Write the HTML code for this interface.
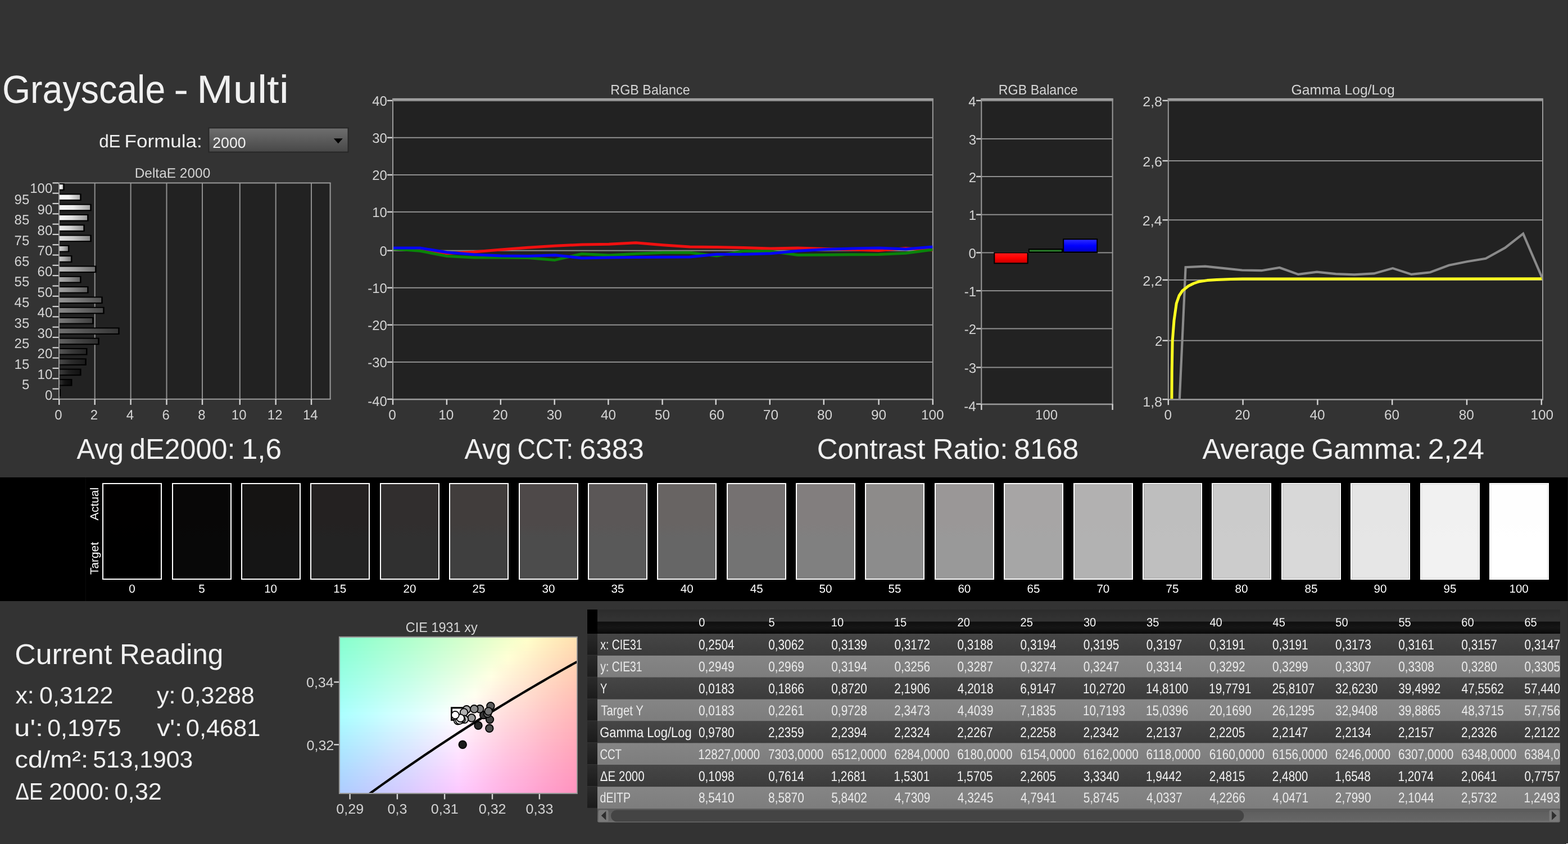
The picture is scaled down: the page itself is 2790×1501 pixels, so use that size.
<!DOCTYPE html>
<html lang="en">
<head>
<meta charset="utf-8">
<title>Grayscale - Multi</title>
<style>
html,body{margin:0;padding:0;background:#333333;}
body{width:2790px;height:1501px;font-family:"Liberation Sans", Arial, sans-serif;line-height:0;}
svg{display:block;}
</style>
</head>
<body>
<svg width="2790" height="1501" viewBox="0 0 2790 1501" font-family='"Liberation Sans", Arial, sans-serif' text-rendering="geometricPrecision">
<defs>
<linearGradient id="dd" x1="0" y1="0" x2="0" y2="1"><stop offset="0" stop-color="#6e6e6e"/><stop offset="1" stop-color="#484848"/></linearGradient>
<linearGradient id="b0" x1="0" y1="0" x2="1" y2="0"><stop offset="0" stop-color="rgb(34,34,34)"/><stop offset="0.45" stop-color="rgb(6,6,6)"/><stop offset="1" stop-color="rgb(0,0,0)"/></linearGradient>
<linearGradient id="b1" x1="0" y1="0" x2="1" y2="0"><stop offset="0" stop-color="rgb(47,47,47)"/><stop offset="0.45" stop-color="rgb(19,19,19)"/><stop offset="1" stop-color="rgb(9,9,9)"/></linearGradient>
<linearGradient id="b2" x1="0" y1="0" x2="1" y2="0"><stop offset="0" stop-color="rgb(60,60,60)"/><stop offset="0.45" stop-color="rgb(32,32,32)"/><stop offset="1" stop-color="rgb(18,18,18)"/></linearGradient>
<linearGradient id="b3" x1="0" y1="0" x2="1" y2="0"><stop offset="0" stop-color="rgb(72,72,72)"/><stop offset="0.45" stop-color="rgb(44,44,44)"/><stop offset="1" stop-color="rgb(27,27,27)"/></linearGradient>
<linearGradient id="b4" x1="0" y1="0" x2="1" y2="0"><stop offset="0" stop-color="rgb(85,85,85)"/><stop offset="0.45" stop-color="rgb(57,57,57)"/><stop offset="1" stop-color="rgb(36,36,36)"/></linearGradient>
<linearGradient id="b5" x1="0" y1="0" x2="1" y2="0"><stop offset="0" stop-color="rgb(98,98,98)"/><stop offset="0.45" stop-color="rgb(70,70,70)"/><stop offset="1" stop-color="rgb(46,46,46)"/></linearGradient>
<linearGradient id="b6" x1="0" y1="0" x2="1" y2="0"><stop offset="0" stop-color="rgb(110,110,110)"/><stop offset="0.45" stop-color="rgb(82,82,82)"/><stop offset="1" stop-color="rgb(54,54,54)"/></linearGradient>
<linearGradient id="b7" x1="0" y1="0" x2="1" y2="0"><stop offset="0" stop-color="rgb(123,123,123)"/><stop offset="0.45" stop-color="rgb(95,95,95)"/><stop offset="1" stop-color="rgb(64,64,64)"/></linearGradient>
<linearGradient id="b8" x1="0" y1="0" x2="1" y2="0"><stop offset="0" stop-color="rgb(136,136,136)"/><stop offset="0.45" stop-color="rgb(108,108,108)"/><stop offset="1" stop-color="rgb(73,73,73)"/></linearGradient>
<linearGradient id="b9" x1="0" y1="0" x2="1" y2="0"><stop offset="0" stop-color="rgb(149,149,149)"/><stop offset="0.45" stop-color="rgb(121,121,121)"/><stop offset="1" stop-color="rgb(82,82,82)"/></linearGradient>
<linearGradient id="b10" x1="0" y1="0" x2="1" y2="0"><stop offset="0" stop-color="rgb(162,162,162)"/><stop offset="0.45" stop-color="rgb(134,134,134)"/><stop offset="1" stop-color="rgb(92,92,92)"/></linearGradient>
<linearGradient id="b11" x1="0" y1="0" x2="1" y2="0"><stop offset="0" stop-color="rgb(174,174,174)"/><stop offset="0.45" stop-color="rgb(146,146,146)"/><stop offset="1" stop-color="rgb(100,100,100)"/></linearGradient>
<linearGradient id="b12" x1="0" y1="0" x2="1" y2="0"><stop offset="0" stop-color="rgb(187,187,187)"/><stop offset="0.45" stop-color="rgb(159,159,159)"/><stop offset="1" stop-color="rgb(110,110,110)"/></linearGradient>
<linearGradient id="b13" x1="0" y1="0" x2="1" y2="0"><stop offset="0" stop-color="rgb(200,200,200)"/><stop offset="0.45" stop-color="rgb(172,172,172)"/><stop offset="1" stop-color="rgb(119,119,119)"/></linearGradient>
<linearGradient id="b14" x1="0" y1="0" x2="1" y2="0"><stop offset="0" stop-color="rgb(212,212,212)"/><stop offset="0.45" stop-color="rgb(184,184,184)"/><stop offset="1" stop-color="rgb(128,128,128)"/></linearGradient>
<linearGradient id="b15" x1="0" y1="0" x2="1" y2="0"><stop offset="0" stop-color="rgb(225,225,225)"/><stop offset="0.45" stop-color="rgb(197,197,197)"/><stop offset="1" stop-color="rgb(137,137,137)"/></linearGradient>
<linearGradient id="b16" x1="0" y1="0" x2="1" y2="0"><stop offset="0" stop-color="rgb(238,238,238)"/><stop offset="0.45" stop-color="rgb(210,210,210)"/><stop offset="1" stop-color="rgb(146,146,146)"/></linearGradient>
<linearGradient id="b17" x1="0" y1="0" x2="1" y2="0"><stop offset="0" stop-color="rgb(248,248,248)"/><stop offset="0.45" stop-color="rgb(223,223,223)"/><stop offset="1" stop-color="rgb(156,156,156)"/></linearGradient>
<linearGradient id="b18" x1="0" y1="0" x2="1" y2="0"><stop offset="0" stop-color="rgb(248,248,248)"/><stop offset="0.45" stop-color="rgb(236,236,236)"/><stop offset="1" stop-color="rgb(165,165,165)"/></linearGradient>
<linearGradient id="b19" x1="0" y1="0" x2="1" y2="0"><stop offset="0" stop-color="rgb(248,248,248)"/><stop offset="0.45" stop-color="rgb(244,244,244)"/><stop offset="1" stop-color="rgb(174,174,174)"/></linearGradient>
<linearGradient id="b20" x1="0" y1="0" x2="1" y2="0"><stop offset="0" stop-color="rgb(248,248,248)"/><stop offset="0.45" stop-color="rgb(244,244,244)"/><stop offset="1" stop-color="rgb(183,183,183)"/></linearGradient>
<linearGradient id="gr" x1="0" y1="0" x2="0" y2="1"><stop offset="0" stop-color="#ff1a1a"/><stop offset="0.5" stop-color="#ff0000"/><stop offset="1" stop-color="#c80000"/></linearGradient>
<linearGradient id="gb" x1="0" y1="0" x2="0" y2="1"><stop offset="0" stop-color="#2a2aff"/><stop offset="0.5" stop-color="#0000ff"/><stop offset="1" stop-color="#0000c8"/></linearGradient>
<linearGradient id="sw0" x1="0" y1="0" x2="0" y2="1"><stop offset="0" stop-color="rgb(1,0,0)"/><stop offset="0.42" stop-color="rgb(1,0,0)"/><stop offset="0.56" stop-color="rgb(0,0,0)"/><stop offset="1" stop-color="rgb(0,0,0)"/></linearGradient>
<linearGradient id="sw1" x1="0" y1="0" x2="0" y2="1"><stop offset="0" stop-color="rgb(8,7,7)"/><stop offset="0.42" stop-color="rgb(8,7,7)"/><stop offset="0.56" stop-color="rgb(8,8,8)"/><stop offset="1" stop-color="rgb(8,8,8)"/></linearGradient>
<linearGradient id="sw2" x1="0" y1="0" x2="0" y2="1"><stop offset="0" stop-color="rgb(21,20,19)"/><stop offset="0.42" stop-color="rgb(21,20,19)"/><stop offset="0.56" stop-color="rgb(21,21,21)"/><stop offset="1" stop-color="rgb(21,21,21)"/></linearGradient>
<linearGradient id="sw3" x1="0" y1="0" x2="0" y2="1"><stop offset="0" stop-color="rgb(36,33,33)"/><stop offset="0.42" stop-color="rgb(36,33,33)"/><stop offset="0.56" stop-color="rgb(35,35,35)"/><stop offset="1" stop-color="rgb(35,35,35)"/></linearGradient>
<linearGradient id="sw4" x1="0" y1="0" x2="0" y2="1"><stop offset="0" stop-color="rgb(49,46,46)"/><stop offset="0.42" stop-color="rgb(49,46,46)"/><stop offset="0.56" stop-color="rgb(48,48,48)"/><stop offset="1" stop-color="rgb(48,48,48)"/></linearGradient>
<linearGradient id="sw5" x1="0" y1="0" x2="0" y2="1"><stop offset="0" stop-color="rgb(65,61,60)"/><stop offset="0.42" stop-color="rgb(65,61,60)"/><stop offset="0.56" stop-color="rgb(63,63,63)"/><stop offset="1" stop-color="rgb(63,63,63)"/></linearGradient>
<linearGradient id="sw6" x1="0" y1="0" x2="0" y2="1"><stop offset="0" stop-color="rgb(78,73,73)"/><stop offset="0.42" stop-color="rgb(78,73,73)"/><stop offset="0.56" stop-color="rgb(76,76,76)"/><stop offset="1" stop-color="rgb(76,76,76)"/></linearGradient>
<linearGradient id="sw7" x1="0" y1="0" x2="0" y2="1"><stop offset="0" stop-color="rgb(91,87,87)"/><stop offset="0.42" stop-color="rgb(91,87,87)"/><stop offset="0.56" stop-color="rgb(89,89,89)"/><stop offset="1" stop-color="rgb(89,89,89)"/></linearGradient>
<linearGradient id="sw8" x1="0" y1="0" x2="0" y2="1"><stop offset="0" stop-color="rgb(104,100,99)"/><stop offset="0.42" stop-color="rgb(104,100,99)"/><stop offset="0.56" stop-color="rgb(102,102,102)"/><stop offset="1" stop-color="rgb(102,102,102)"/></linearGradient>
<linearGradient id="sw9" x1="0" y1="0" x2="0" y2="1"><stop offset="0" stop-color="rgb(117,113,113)"/><stop offset="0.42" stop-color="rgb(117,113,113)"/><stop offset="0.56" stop-color="rgb(115,115,115)"/><stop offset="1" stop-color="rgb(115,115,115)"/></linearGradient>
<linearGradient id="sw10" x1="0" y1="0" x2="0" y2="1"><stop offset="0" stop-color="rgb(130,126,126)"/><stop offset="0.42" stop-color="rgb(130,126,126)"/><stop offset="0.56" stop-color="rgb(128,128,128)"/><stop offset="1" stop-color="rgb(128,128,128)"/></linearGradient>
<linearGradient id="sw11" x1="0" y1="0" x2="0" y2="1"><stop offset="0" stop-color="rgb(141,139,138)"/><stop offset="0.42" stop-color="rgb(141,139,138)"/><stop offset="0.56" stop-color="rgb(140,140,140)"/><stop offset="1" stop-color="rgb(140,140,140)"/></linearGradient>
<linearGradient id="sw12" x1="0" y1="0" x2="0" y2="1"><stop offset="0" stop-color="rgb(154,151,151)"/><stop offset="0.42" stop-color="rgb(154,151,151)"/><stop offset="0.56" stop-color="rgb(153,153,153)"/><stop offset="1" stop-color="rgb(153,153,153)"/></linearGradient>
<linearGradient id="sw13" x1="0" y1="0" x2="0" y2="1"><stop offset="0" stop-color="rgb(167,165,165)"/><stop offset="0.42" stop-color="rgb(167,165,165)"/><stop offset="0.56" stop-color="rgb(166,166,166)"/><stop offset="1" stop-color="rgb(166,166,166)"/></linearGradient>
<linearGradient id="sw14" x1="0" y1="0" x2="0" y2="1"><stop offset="0" stop-color="rgb(178,177,177)"/><stop offset="0.42" stop-color="rgb(178,177,177)"/><stop offset="0.56" stop-color="rgb(178,178,178)"/><stop offset="1" stop-color="rgb(178,178,178)"/></linearGradient>
<linearGradient id="sw15" x1="0" y1="0" x2="0" y2="1"><stop offset="0" stop-color="rgb(190,190,190)"/><stop offset="0.42" stop-color="rgb(190,190,190)"/><stop offset="0.56" stop-color="rgb(191,191,191)"/><stop offset="1" stop-color="rgb(191,191,191)"/></linearGradient>
<linearGradient id="sw16" x1="0" y1="0" x2="0" y2="1"><stop offset="0" stop-color="rgb(203,203,203)"/><stop offset="0.42" stop-color="rgb(203,203,203)"/><stop offset="0.56" stop-color="rgb(204,204,204)"/><stop offset="1" stop-color="rgb(204,204,204)"/></linearGradient>
<linearGradient id="sw17" x1="0" y1="0" x2="0" y2="1"><stop offset="0" stop-color="rgb(216,216,216)"/><stop offset="0.42" stop-color="rgb(216,216,216)"/><stop offset="0.56" stop-color="rgb(217,217,217)"/><stop offset="1" stop-color="rgb(217,217,217)"/></linearGradient>
<linearGradient id="sw18" x1="0" y1="0" x2="0" y2="1"><stop offset="0" stop-color="rgb(229,229,229)"/><stop offset="0.42" stop-color="rgb(229,229,229)"/><stop offset="0.56" stop-color="rgb(230,230,230)"/><stop offset="1" stop-color="rgb(230,230,230)"/></linearGradient>
<linearGradient id="sw19" x1="0" y1="0" x2="0" y2="1"><stop offset="0" stop-color="rgb(241,241,241)"/><stop offset="0.42" stop-color="rgb(241,241,241)"/><stop offset="0.56" stop-color="rgb(242,242,242)"/><stop offset="1" stop-color="rgb(242,242,242)"/></linearGradient>
<linearGradient id="sw20" x1="0" y1="0" x2="0" y2="1"><stop offset="0" stop-color="rgb(254,254,254)"/><stop offset="0.42" stop-color="rgb(254,254,254)"/><stop offset="0.56" stop-color="rgb(255,255,255)"/><stop offset="1" stop-color="rgb(255,255,255)"/></linearGradient>
<linearGradient id="c0" x1="0" y1="0" x2="1" y2="0"><stop offset="0" stop-color="#88ffcf"/><stop offset="0.07" stop-color="#91ffcf"/><stop offset="0.14" stop-color="#9bffce"/><stop offset="0.21" stop-color="#a6ffce"/><stop offset="0.29" stop-color="#b0ffcd"/><stop offset="0.36" stop-color="#bbffcd"/><stop offset="0.43" stop-color="#c6ffcd"/><stop offset="0.5" stop-color="#d1ffcc"/><stop offset="0.57" stop-color="#dcffcc"/><stop offset="0.64" stop-color="#e7ffcb"/><stop offset="0.71" stop-color="#f3ffcb"/><stop offset="0.79" stop-color="#ffffca"/><stop offset="0.86" stop-color="#fff3c0"/><stop offset="0.93" stop-color="#ffe9b7"/><stop offset="1" stop-color="#ffdfaf"/></linearGradient>
<linearGradient id="c1" x1="0" y1="0" x2="1" y2="0"><stop offset="0" stop-color="#89ffd1"/><stop offset="0.07" stop-color="#93ffd1"/><stop offset="0.14" stop-color="#9dffd0"/><stop offset="0.21" stop-color="#a7ffd0"/><stop offset="0.29" stop-color="#b2ffcf"/><stop offset="0.36" stop-color="#bcffcf"/><stop offset="0.43" stop-color="#c7ffcf"/><stop offset="0.5" stop-color="#d2ffce"/><stop offset="0.57" stop-color="#deffce"/><stop offset="0.64" stop-color="#e9ffcd"/><stop offset="0.71" stop-color="#f5ffcd"/><stop offset="0.79" stop-color="#fffdcb"/><stop offset="0.86" stop-color="#fff1c1"/><stop offset="0.93" stop-color="#ffe7b8"/><stop offset="1" stop-color="#ffddaf"/></linearGradient>
<linearGradient id="c2" x1="0" y1="0" x2="1" y2="0"><stop offset="0" stop-color="#8affd3"/><stop offset="0.07" stop-color="#94ffd3"/><stop offset="0.14" stop-color="#9fffd2"/><stop offset="0.21" stop-color="#a9ffd2"/><stop offset="0.29" stop-color="#b3ffd1"/><stop offset="0.36" stop-color="#beffd1"/><stop offset="0.43" stop-color="#c9ffd1"/><stop offset="0.5" stop-color="#d4ffd0"/><stop offset="0.57" stop-color="#e0ffd0"/><stop offset="0.64" stop-color="#ebffcf"/><stop offset="0.71" stop-color="#f7ffcf"/><stop offset="0.79" stop-color="#fffbcb"/><stop offset="0.86" stop-color="#ffefc1"/><stop offset="0.93" stop-color="#ffe5b8"/><stop offset="1" stop-color="#ffdbb0"/></linearGradient>
<linearGradient id="c3" x1="0" y1="0" x2="1" y2="0"><stop offset="0" stop-color="#8cffd5"/><stop offset="0.07" stop-color="#96ffd5"/><stop offset="0.14" stop-color="#a0ffd4"/><stop offset="0.21" stop-color="#aaffd4"/><stop offset="0.29" stop-color="#b5ffd3"/><stop offset="0.36" stop-color="#c0ffd3"/><stop offset="0.43" stop-color="#cbffd3"/><stop offset="0.5" stop-color="#d6ffd2"/><stop offset="0.57" stop-color="#e2ffd2"/><stop offset="0.64" stop-color="#edffd1"/><stop offset="0.71" stop-color="#f9ffd1"/><stop offset="0.79" stop-color="#fff9cb"/><stop offset="0.86" stop-color="#ffedc2"/><stop offset="0.93" stop-color="#ffe3b9"/><stop offset="1" stop-color="#ffd9b0"/></linearGradient>
<linearGradient id="c4" x1="0" y1="0" x2="1" y2="0"><stop offset="0" stop-color="#8dffd7"/><stop offset="0.07" stop-color="#97ffd7"/><stop offset="0.14" stop-color="#a2ffd6"/><stop offset="0.21" stop-color="#acffd6"/><stop offset="0.29" stop-color="#b7ffd5"/><stop offset="0.36" stop-color="#c2ffd5"/><stop offset="0.43" stop-color="#cdffd5"/><stop offset="0.5" stop-color="#d8ffd4"/><stop offset="0.57" stop-color="#e4ffd4"/><stop offset="0.64" stop-color="#f0ffd3"/><stop offset="0.71" stop-color="#fcffd3"/><stop offset="0.79" stop-color="#fff6cc"/><stop offset="0.86" stop-color="#ffebc2"/><stop offset="0.93" stop-color="#ffe1b9"/><stop offset="1" stop-color="#ffd7b1"/></linearGradient>
<linearGradient id="c5" x1="0" y1="0" x2="1" y2="0"><stop offset="0" stop-color="#8fffd9"/><stop offset="0.07" stop-color="#99ffd9"/><stop offset="0.14" stop-color="#a3ffd8"/><stop offset="0.21" stop-color="#aeffd8"/><stop offset="0.29" stop-color="#b9ffd8"/><stop offset="0.36" stop-color="#c4ffd7"/><stop offset="0.43" stop-color="#cfffd7"/><stop offset="0.5" stop-color="#daffd6"/><stop offset="0.57" stop-color="#e6ffd6"/><stop offset="0.64" stop-color="#f2ffd6"/><stop offset="0.71" stop-color="#feffd5"/><stop offset="0.79" stop-color="#fff4cc"/><stop offset="0.86" stop-color="#ffe9c2"/><stop offset="0.93" stop-color="#ffdfb9"/><stop offset="1" stop-color="#ffd5b1"/></linearGradient>
<linearGradient id="c6" x1="0" y1="0" x2="1" y2="0"><stop offset="0" stop-color="#90ffdb"/><stop offset="0.07" stop-color="#9affdb"/><stop offset="0.14" stop-color="#a5ffda"/><stop offset="0.21" stop-color="#afffda"/><stop offset="0.29" stop-color="#baffda"/><stop offset="0.36" stop-color="#c5ffd9"/><stop offset="0.43" stop-color="#d1ffd9"/><stop offset="0.5" stop-color="#dcffd9"/><stop offset="0.57" stop-color="#e8ffd8"/><stop offset="0.64" stop-color="#f4ffd8"/><stop offset="0.71" stop-color="#fffed6"/><stop offset="0.79" stop-color="#fff2cc"/><stop offset="0.86" stop-color="#ffe7c3"/><stop offset="0.93" stop-color="#ffddba"/><stop offset="1" stop-color="#ffd3b1"/></linearGradient>
<linearGradient id="c7" x1="0" y1="0" x2="1" y2="0"><stop offset="0" stop-color="#92ffdd"/><stop offset="0.07" stop-color="#9cffdd"/><stop offset="0.14" stop-color="#a6ffdc"/><stop offset="0.21" stop-color="#b1ffdc"/><stop offset="0.29" stop-color="#bcffdc"/><stop offset="0.36" stop-color="#c7ffdb"/><stop offset="0.43" stop-color="#d3ffdb"/><stop offset="0.5" stop-color="#deffdb"/><stop offset="0.57" stop-color="#eaffda"/><stop offset="0.64" stop-color="#f6ffda"/><stop offset="0.71" stop-color="#fffcd7"/><stop offset="0.79" stop-color="#fff0cc"/><stop offset="0.86" stop-color="#ffe5c3"/><stop offset="0.93" stop-color="#ffdbba"/><stop offset="1" stop-color="#ffd2b2"/></linearGradient>
<linearGradient id="c8" x1="0" y1="0" x2="1" y2="0"><stop offset="0" stop-color="#93ffdf"/><stop offset="0.07" stop-color="#9effdf"/><stop offset="0.14" stop-color="#a8ffde"/><stop offset="0.21" stop-color="#b3ffde"/><stop offset="0.29" stop-color="#beffde"/><stop offset="0.36" stop-color="#c9ffdd"/><stop offset="0.43" stop-color="#d5ffdd"/><stop offset="0.5" stop-color="#e0ffdd"/><stop offset="0.57" stop-color="#ecffdd"/><stop offset="0.64" stop-color="#f8ffdc"/><stop offset="0.71" stop-color="#fff9d7"/><stop offset="0.79" stop-color="#ffeecd"/><stop offset="0.86" stop-color="#ffe3c3"/><stop offset="0.93" stop-color="#ffd9ba"/><stop offset="1" stop-color="#ffd0b2"/></linearGradient>
<linearGradient id="c9" x1="0" y1="0" x2="1" y2="0"><stop offset="0" stop-color="#95ffe1"/><stop offset="0.07" stop-color="#9fffe1"/><stop offset="0.14" stop-color="#aaffe1"/><stop offset="0.21" stop-color="#b5ffe0"/><stop offset="0.29" stop-color="#c0ffe0"/><stop offset="0.36" stop-color="#cbffe0"/><stop offset="0.43" stop-color="#d7ffdf"/><stop offset="0.5" stop-color="#e2ffdf"/><stop offset="0.57" stop-color="#eeffdf"/><stop offset="0.64" stop-color="#fbffde"/><stop offset="0.71" stop-color="#fff7d7"/><stop offset="0.79" stop-color="#ffeccd"/><stop offset="0.86" stop-color="#ffe1c4"/><stop offset="0.93" stop-color="#ffd7bb"/><stop offset="1" stop-color="#ffceb2"/></linearGradient>
<linearGradient id="c10" x1="0" y1="0" x2="1" y2="0"><stop offset="0" stop-color="#96ffe3"/><stop offset="0.07" stop-color="#a1ffe3"/><stop offset="0.14" stop-color="#abffe3"/><stop offset="0.21" stop-color="#b6ffe2"/><stop offset="0.29" stop-color="#c2ffe2"/><stop offset="0.36" stop-color="#cdffe2"/><stop offset="0.43" stop-color="#d8ffe2"/><stop offset="0.5" stop-color="#e4ffe1"/><stop offset="0.57" stop-color="#f0ffe1"/><stop offset="0.64" stop-color="#fdffe1"/><stop offset="0.71" stop-color="#fff5d8"/><stop offset="0.79" stop-color="#ffeacd"/><stop offset="0.86" stop-color="#ffdfc4"/><stop offset="0.93" stop-color="#ffd5bb"/><stop offset="1" stop-color="#ffccb3"/></linearGradient>
<linearGradient id="c11" x1="0" y1="0" x2="1" y2="0"><stop offset="0" stop-color="#98ffe5"/><stop offset="0.07" stop-color="#a2ffe5"/><stop offset="0.14" stop-color="#adffe5"/><stop offset="0.21" stop-color="#b8ffe5"/><stop offset="0.29" stop-color="#c3ffe4"/><stop offset="0.36" stop-color="#cfffe4"/><stop offset="0.43" stop-color="#dbffe4"/><stop offset="0.5" stop-color="#e6ffe4"/><stop offset="0.57" stop-color="#f3ffe3"/><stop offset="0.64" stop-color="#ffffe3"/><stop offset="0.71" stop-color="#fff3d8"/><stop offset="0.79" stop-color="#ffe8ce"/><stop offset="0.86" stop-color="#ffddc4"/><stop offset="0.93" stop-color="#ffd3bb"/><stop offset="1" stop-color="#ffcab3"/></linearGradient>
<linearGradient id="c12" x1="0" y1="0" x2="1" y2="0"><stop offset="0" stop-color="#99ffe7"/><stop offset="0.07" stop-color="#a4ffe7"/><stop offset="0.14" stop-color="#afffe7"/><stop offset="0.21" stop-color="#baffe7"/><stop offset="0.29" stop-color="#c5ffe7"/><stop offset="0.36" stop-color="#d1ffe6"/><stop offset="0.43" stop-color="#ddffe6"/><stop offset="0.5" stop-color="#e9ffe6"/><stop offset="0.57" stop-color="#f5ffe6"/><stop offset="0.64" stop-color="#fffde3"/><stop offset="0.71" stop-color="#fff1d8"/><stop offset="0.79" stop-color="#ffe6ce"/><stop offset="0.86" stop-color="#ffdbc5"/><stop offset="0.93" stop-color="#ffd2bc"/><stop offset="1" stop-color="#ffc9b3"/></linearGradient>
<linearGradient id="c13" x1="0" y1="0" x2="1" y2="0"><stop offset="0" stop-color="#9bffea"/><stop offset="0.07" stop-color="#a6ffe9"/><stop offset="0.14" stop-color="#b1ffe9"/><stop offset="0.21" stop-color="#bcffe9"/><stop offset="0.29" stop-color="#c7ffe9"/><stop offset="0.36" stop-color="#d3ffe9"/><stop offset="0.43" stop-color="#dfffe8"/><stop offset="0.5" stop-color="#ebffe8"/><stop offset="0.57" stop-color="#f7ffe8"/><stop offset="0.64" stop-color="#fffae4"/><stop offset="0.71" stop-color="#ffefd9"/><stop offset="0.79" stop-color="#ffe4ce"/><stop offset="0.86" stop-color="#ffd9c5"/><stop offset="0.93" stop-color="#ffd0bc"/><stop offset="1" stop-color="#ffc7b4"/></linearGradient>
<linearGradient id="c14" x1="0" y1="0" x2="1" y2="0"><stop offset="0" stop-color="#9cffec"/><stop offset="0.07" stop-color="#a7ffec"/><stop offset="0.14" stop-color="#b2ffeb"/><stop offset="0.21" stop-color="#beffeb"/><stop offset="0.29" stop-color="#c9ffeb"/><stop offset="0.36" stop-color="#d5ffeb"/><stop offset="0.43" stop-color="#e1ffeb"/><stop offset="0.5" stop-color="#edffea"/><stop offset="0.57" stop-color="#f9ffea"/><stop offset="0.64" stop-color="#fff8e4"/><stop offset="0.71" stop-color="#ffecd9"/><stop offset="0.79" stop-color="#ffe2cf"/><stop offset="0.86" stop-color="#ffd7c5"/><stop offset="0.93" stop-color="#ffcebc"/><stop offset="1" stop-color="#ffc5b4"/></linearGradient>
<linearGradient id="c15" x1="0" y1="0" x2="1" y2="0"><stop offset="0" stop-color="#9effee"/><stop offset="0.07" stop-color="#a9ffee"/><stop offset="0.14" stop-color="#b4ffee"/><stop offset="0.21" stop-color="#bfffed"/><stop offset="0.29" stop-color="#cbffed"/><stop offset="0.36" stop-color="#d7ffed"/><stop offset="0.43" stop-color="#e3ffed"/><stop offset="0.5" stop-color="#efffed"/><stop offset="0.57" stop-color="#fcffed"/><stop offset="0.64" stop-color="#fff6e4"/><stop offset="0.71" stop-color="#ffead9"/><stop offset="0.79" stop-color="#ffe0cf"/><stop offset="0.86" stop-color="#ffd5c6"/><stop offset="0.93" stop-color="#ffccbd"/><stop offset="1" stop-color="#ffc3b4"/></linearGradient>
<linearGradient id="c16" x1="0" y1="0" x2="1" y2="0"><stop offset="0" stop-color="#a0fff0"/><stop offset="0.07" stop-color="#abfff0"/><stop offset="0.14" stop-color="#b6fff0"/><stop offset="0.21" stop-color="#c1fff0"/><stop offset="0.29" stop-color="#cdfff0"/><stop offset="0.36" stop-color="#d9fff0"/><stop offset="0.43" stop-color="#e5ffef"/><stop offset="0.5" stop-color="#f1ffef"/><stop offset="0.57" stop-color="#feffef"/><stop offset="0.64" stop-color="#fff4e4"/><stop offset="0.71" stop-color="#ffe8d9"/><stop offset="0.79" stop-color="#ffddcf"/><stop offset="0.86" stop-color="#ffd4c6"/><stop offset="0.93" stop-color="#ffcabd"/><stop offset="1" stop-color="#ffc2b5"/></linearGradient>
<linearGradient id="c17" x1="0" y1="0" x2="1" y2="0"><stop offset="0" stop-color="#a1fff2"/><stop offset="0.07" stop-color="#acfff2"/><stop offset="0.14" stop-color="#b8fff2"/><stop offset="0.21" stop-color="#c3fff2"/><stop offset="0.29" stop-color="#cffff2"/><stop offset="0.36" stop-color="#dbfff2"/><stop offset="0.43" stop-color="#e7fff2"/><stop offset="0.5" stop-color="#f4fff2"/><stop offset="0.57" stop-color="#fffef0"/><stop offset="0.64" stop-color="#fff1e5"/><stop offset="0.71" stop-color="#ffe6da"/><stop offset="0.79" stop-color="#ffdcd0"/><stop offset="0.86" stop-color="#ffd2c6"/><stop offset="0.93" stop-color="#ffc8bd"/><stop offset="1" stop-color="#ffc0b5"/></linearGradient>
<linearGradient id="c18" x1="0" y1="0" x2="1" y2="0"><stop offset="0" stop-color="#a3fff5"/><stop offset="0.07" stop-color="#aefff5"/><stop offset="0.14" stop-color="#b9fff5"/><stop offset="0.21" stop-color="#c5fff4"/><stop offset="0.29" stop-color="#d1fff4"/><stop offset="0.36" stop-color="#ddfff4"/><stop offset="0.43" stop-color="#e9fff4"/><stop offset="0.5" stop-color="#f6fff4"/><stop offset="0.57" stop-color="#fffbf1"/><stop offset="0.64" stop-color="#ffefe5"/><stop offset="0.71" stop-color="#ffe4da"/><stop offset="0.79" stop-color="#ffdad0"/><stop offset="0.86" stop-color="#ffd0c6"/><stop offset="0.93" stop-color="#ffc7be"/><stop offset="1" stop-color="#ffbeb5"/></linearGradient>
<linearGradient id="c19" x1="0" y1="0" x2="1" y2="0"><stop offset="0" stop-color="#a5fff7"/><stop offset="0.07" stop-color="#b0fff7"/><stop offset="0.14" stop-color="#bbfff7"/><stop offset="0.21" stop-color="#c7fff7"/><stop offset="0.29" stop-color="#d3fff7"/><stop offset="0.36" stop-color="#dffff7"/><stop offset="0.43" stop-color="#ebfff7"/><stop offset="0.5" stop-color="#f8fff7"/><stop offset="0.57" stop-color="#fff9f1"/><stop offset="0.64" stop-color="#ffede5"/><stop offset="0.71" stop-color="#ffe2da"/><stop offset="0.79" stop-color="#ffd8d0"/><stop offset="0.86" stop-color="#ffcec7"/><stop offset="0.93" stop-color="#ffc5be"/><stop offset="1" stop-color="#ffbcb6"/></linearGradient>
<linearGradient id="c20" x1="0" y1="0" x2="1" y2="0"><stop offset="0" stop-color="#a6fff9"/><stop offset="0.07" stop-color="#b2fff9"/><stop offset="0.14" stop-color="#bdfff9"/><stop offset="0.21" stop-color="#c9fff9"/><stop offset="0.29" stop-color="#d5fff9"/><stop offset="0.36" stop-color="#e1fff9"/><stop offset="0.43" stop-color="#eefff9"/><stop offset="0.5" stop-color="#fafff9"/><stop offset="0.57" stop-color="#fff7f1"/><stop offset="0.64" stop-color="#ffebe5"/><stop offset="0.71" stop-color="#ffe0db"/><stop offset="0.79" stop-color="#ffd6d0"/><stop offset="0.86" stop-color="#ffccc7"/><stop offset="0.93" stop-color="#ffc3be"/><stop offset="1" stop-color="#ffbbb6"/></linearGradient>
<linearGradient id="c21" x1="0" y1="0" x2="1" y2="0"><stop offset="0" stop-color="#a8fffc"/><stop offset="0.07" stop-color="#b4fffc"/><stop offset="0.14" stop-color="#bffffc"/><stop offset="0.21" stop-color="#cbfffc"/><stop offset="0.29" stop-color="#d7fffc"/><stop offset="0.36" stop-color="#e3fffc"/><stop offset="0.43" stop-color="#f0fffc"/><stop offset="0.5" stop-color="#fdfffc"/><stop offset="0.57" stop-color="#fff4f1"/><stop offset="0.64" stop-color="#ffe9e6"/><stop offset="0.71" stop-color="#ffdedb"/><stop offset="0.79" stop-color="#ffd4d1"/><stop offset="0.86" stop-color="#ffcac7"/><stop offset="0.93" stop-color="#ffc1bf"/><stop offset="1" stop-color="#ffb9b7"/></linearGradient>
<linearGradient id="c22" x1="0" y1="0" x2="1" y2="0"><stop offset="0" stop-color="#aafffe"/><stop offset="0.07" stop-color="#b5fffe"/><stop offset="0.14" stop-color="#c1fffe"/><stop offset="0.21" stop-color="#cdfffe"/><stop offset="0.29" stop-color="#d9fffe"/><stop offset="0.36" stop-color="#e6fffe"/><stop offset="0.43" stop-color="#f2fffe"/><stop offset="0.5" stop-color="#fffffe"/><stop offset="0.57" stop-color="#fff2f1"/><stop offset="0.64" stop-color="#ffe7e6"/><stop offset="0.71" stop-color="#ffdcdb"/><stop offset="0.79" stop-color="#ffd2d1"/><stop offset="0.86" stop-color="#ffc8c8"/><stop offset="0.93" stop-color="#ffc0bf"/><stop offset="1" stop-color="#ffb7b7"/></linearGradient>
<linearGradient id="c23" x1="0" y1="0" x2="1" y2="0"><stop offset="0" stop-color="#abfeff"/><stop offset="0.07" stop-color="#b6fdff"/><stop offset="0.14" stop-color="#c2fdff"/><stop offset="0.21" stop-color="#cefdff"/><stop offset="0.29" stop-color="#dafdff"/><stop offset="0.36" stop-color="#e6fdff"/><stop offset="0.43" stop-color="#f3fdff"/><stop offset="0.5" stop-color="#fffcfe"/><stop offset="0.57" stop-color="#fff0f2"/><stop offset="0.64" stop-color="#ffe4e6"/><stop offset="0.71" stop-color="#ffdadb"/><stop offset="0.79" stop-color="#ffd0d1"/><stop offset="0.86" stop-color="#ffc7c8"/><stop offset="0.93" stop-color="#ffbebf"/><stop offset="1" stop-color="#ffb6b7"/></linearGradient>
<linearGradient id="c24" x1="0" y1="0" x2="1" y2="0"><stop offset="0" stop-color="#abfbff"/><stop offset="0.07" stop-color="#b6fbff"/><stop offset="0.14" stop-color="#c2fbff"/><stop offset="0.21" stop-color="#cefbff"/><stop offset="0.29" stop-color="#dafbff"/><stop offset="0.36" stop-color="#e6fbff"/><stop offset="0.43" stop-color="#f3fbff"/><stop offset="0.5" stop-color="#fffafe"/><stop offset="0.57" stop-color="#ffeef2"/><stop offset="0.64" stop-color="#ffe2e6"/><stop offset="0.71" stop-color="#ffd8dc"/><stop offset="0.79" stop-color="#ffced2"/><stop offset="0.86" stop-color="#ffc5c8"/><stop offset="0.93" stop-color="#ffbcc0"/><stop offset="1" stop-color="#ffb4b8"/></linearGradient>
<linearGradient id="c25" x1="0" y1="0" x2="1" y2="0"><stop offset="0" stop-color="#abf9ff"/><stop offset="0.07" stop-color="#b6f9ff"/><stop offset="0.14" stop-color="#c2f9ff"/><stop offset="0.21" stop-color="#cef9ff"/><stop offset="0.29" stop-color="#daf8ff"/><stop offset="0.36" stop-color="#e6f8ff"/><stop offset="0.43" stop-color="#f3f8ff"/><stop offset="0.5" stop-color="#fff8ff"/><stop offset="0.57" stop-color="#ffecf2"/><stop offset="0.64" stop-color="#ffe0e7"/><stop offset="0.71" stop-color="#ffd6dc"/><stop offset="0.79" stop-color="#ffccd2"/><stop offset="0.86" stop-color="#ffc3c9"/><stop offset="0.93" stop-color="#ffbac0"/><stop offset="1" stop-color="#ffb2b8"/></linearGradient>
<linearGradient id="c26" x1="0" y1="0" x2="1" y2="0"><stop offset="0" stop-color="#abf6ff"/><stop offset="0.07" stop-color="#b6f6ff"/><stop offset="0.14" stop-color="#c2f6ff"/><stop offset="0.21" stop-color="#cef6ff"/><stop offset="0.29" stop-color="#daf6ff"/><stop offset="0.36" stop-color="#e6f6ff"/><stop offset="0.43" stop-color="#f2f6ff"/><stop offset="0.5" stop-color="#fff5ff"/><stop offset="0.57" stop-color="#ffe9f2"/><stop offset="0.64" stop-color="#ffdee7"/><stop offset="0.71" stop-color="#ffd4dc"/><stop offset="0.79" stop-color="#ffcad2"/><stop offset="0.86" stop-color="#ffc1c9"/><stop offset="0.93" stop-color="#ffb9c0"/><stop offset="1" stop-color="#ffb1b8"/></linearGradient>
<linearGradient id="c27" x1="0" y1="0" x2="1" y2="0"><stop offset="0" stop-color="#abf4ff"/><stop offset="0.07" stop-color="#b7f4ff"/><stop offset="0.14" stop-color="#c2f4ff"/><stop offset="0.21" stop-color="#cef4ff"/><stop offset="0.29" stop-color="#daf4ff"/><stop offset="0.36" stop-color="#e6f3ff"/><stop offset="0.43" stop-color="#f2f3ff"/><stop offset="0.5" stop-color="#fff3ff"/><stop offset="0.57" stop-color="#ffe7f3"/><stop offset="0.64" stop-color="#ffdce7"/><stop offset="0.71" stop-color="#ffd2dc"/><stop offset="0.79" stop-color="#ffc8d3"/><stop offset="0.86" stop-color="#ffbfc9"/><stop offset="0.93" stop-color="#ffb7c1"/><stop offset="1" stop-color="#ffafb9"/></linearGradient>
<linearGradient id="c28" x1="0" y1="0" x2="1" y2="0"><stop offset="0" stop-color="#abf2ff"/><stop offset="0.07" stop-color="#b7f2ff"/><stop offset="0.14" stop-color="#c2f1ff"/><stop offset="0.21" stop-color="#cef1ff"/><stop offset="0.29" stop-color="#daf1ff"/><stop offset="0.36" stop-color="#e6f1ff"/><stop offset="0.43" stop-color="#f2f1ff"/><stop offset="0.5" stop-color="#fff1ff"/><stop offset="0.57" stop-color="#ffe5f3"/><stop offset="0.64" stop-color="#ffdae7"/><stop offset="0.71" stop-color="#ffd0dd"/><stop offset="0.79" stop-color="#ffc6d3"/><stop offset="0.86" stop-color="#ffbdca"/><stop offset="0.93" stop-color="#ffb5c1"/><stop offset="1" stop-color="#ffadb9"/></linearGradient>
<linearGradient id="c29" x1="0" y1="0" x2="1" y2="0"><stop offset="0" stop-color="#acefff"/><stop offset="0.07" stop-color="#b7efff"/><stop offset="0.14" stop-color="#c2efff"/><stop offset="0.21" stop-color="#ceefff"/><stop offset="0.29" stop-color="#daefff"/><stop offset="0.36" stop-color="#e6efff"/><stop offset="0.43" stop-color="#f2eeff"/><stop offset="0.5" stop-color="#ffeeff"/><stop offset="0.57" stop-color="#ffe3f3"/><stop offset="0.64" stop-color="#ffd8e8"/><stop offset="0.71" stop-color="#ffcedd"/><stop offset="0.79" stop-color="#ffc4d3"/><stop offset="0.86" stop-color="#ffbcca"/><stop offset="0.93" stop-color="#ffb4c1"/><stop offset="1" stop-color="#ffacb9"/></linearGradient>
<linearGradient id="c30" x1="0" y1="0" x2="1" y2="0"><stop offset="0" stop-color="#acedff"/><stop offset="0.07" stop-color="#b7edff"/><stop offset="0.14" stop-color="#c2edff"/><stop offset="0.21" stop-color="#ceedff"/><stop offset="0.29" stop-color="#daecff"/><stop offset="0.36" stop-color="#e6ecff"/><stop offset="0.43" stop-color="#f2ecff"/><stop offset="0.5" stop-color="#ffecff"/><stop offset="0.57" stop-color="#ffe1f3"/><stop offset="0.64" stop-color="#ffd6e8"/><stop offset="0.71" stop-color="#ffccdd"/><stop offset="0.79" stop-color="#ffc3d3"/><stop offset="0.86" stop-color="#ffbaca"/><stop offset="0.93" stop-color="#ffb2c2"/><stop offset="1" stop-color="#ffaab9"/></linearGradient>
<linearGradient id="c31" x1="0" y1="0" x2="1" y2="0"><stop offset="0" stop-color="#acebff"/><stop offset="0.07" stop-color="#b7ebff"/><stop offset="0.14" stop-color="#c2ebff"/><stop offset="0.21" stop-color="#ceeaff"/><stop offset="0.29" stop-color="#daeaff"/><stop offset="0.36" stop-color="#e6eaff"/><stop offset="0.43" stop-color="#f2eaff"/><stop offset="0.5" stop-color="#fee9ff"/><stop offset="0.57" stop-color="#ffdef3"/><stop offset="0.64" stop-color="#ffd4e8"/><stop offset="0.71" stop-color="#ffcadd"/><stop offset="0.79" stop-color="#ffc1d4"/><stop offset="0.86" stop-color="#ffb8ca"/><stop offset="0.93" stop-color="#ffb0c2"/><stop offset="1" stop-color="#ffa9ba"/></linearGradient>
<linearGradient id="c32" x1="0" y1="0" x2="1" y2="0"><stop offset="0" stop-color="#ace9ff"/><stop offset="0.07" stop-color="#b7e8ff"/><stop offset="0.14" stop-color="#c2e8ff"/><stop offset="0.21" stop-color="#cee8ff"/><stop offset="0.29" stop-color="#dae8ff"/><stop offset="0.36" stop-color="#e6e7ff"/><stop offset="0.43" stop-color="#f2e7ff"/><stop offset="0.5" stop-color="#fee7ff"/><stop offset="0.57" stop-color="#ffdcf4"/><stop offset="0.64" stop-color="#ffd2e8"/><stop offset="0.71" stop-color="#ffc8de"/><stop offset="0.79" stop-color="#ffbfd4"/><stop offset="0.86" stop-color="#ffb6cb"/><stop offset="0.93" stop-color="#ffaec2"/><stop offset="1" stop-color="#ffa7ba"/></linearGradient>
<linearGradient id="c33" x1="0" y1="0" x2="1" y2="0"><stop offset="0" stop-color="#ace6ff"/><stop offset="0.07" stop-color="#b7e6ff"/><stop offset="0.14" stop-color="#c2e6ff"/><stop offset="0.21" stop-color="#cee6ff"/><stop offset="0.29" stop-color="#dae5ff"/><stop offset="0.36" stop-color="#e5e5ff"/><stop offset="0.43" stop-color="#f2e5ff"/><stop offset="0.5" stop-color="#fee5ff"/><stop offset="0.57" stop-color="#ffdaf4"/><stop offset="0.64" stop-color="#ffd0e9"/><stop offset="0.71" stop-color="#ffc6de"/><stop offset="0.79" stop-color="#ffbdd4"/><stop offset="0.86" stop-color="#ffb5cb"/><stop offset="0.93" stop-color="#ffadc2"/><stop offset="1" stop-color="#ffa5ba"/></linearGradient>
<linearGradient id="c34" x1="0" y1="0" x2="1" y2="0"><stop offset="0" stop-color="#ace4ff"/><stop offset="0.07" stop-color="#b7e4ff"/><stop offset="0.14" stop-color="#c2e4ff"/><stop offset="0.21" stop-color="#cee3ff"/><stop offset="0.29" stop-color="#d9e3ff"/><stop offset="0.36" stop-color="#e5e3ff"/><stop offset="0.43" stop-color="#f1e2ff"/><stop offset="0.5" stop-color="#fee2ff"/><stop offset="0.57" stop-color="#ffd8f4"/><stop offset="0.64" stop-color="#ffcee9"/><stop offset="0.71" stop-color="#ffc4de"/><stop offset="0.79" stop-color="#ffbbd4"/><stop offset="0.86" stop-color="#ffb3cb"/><stop offset="0.93" stop-color="#ffabc3"/><stop offset="1" stop-color="#ffa4bb"/></linearGradient>
<linearGradient id="c35" x1="0" y1="0" x2="1" y2="0"><stop offset="0" stop-color="#ace2ff"/><stop offset="0.07" stop-color="#b7e2ff"/><stop offset="0.14" stop-color="#c2e1ff"/><stop offset="0.21" stop-color="#cee1ff"/><stop offset="0.29" stop-color="#d9e1ff"/><stop offset="0.36" stop-color="#e5e0ff"/><stop offset="0.43" stop-color="#f1e0ff"/><stop offset="0.5" stop-color="#fee0ff"/><stop offset="0.57" stop-color="#ffd6f4"/><stop offset="0.64" stop-color="#ffcce9"/><stop offset="0.71" stop-color="#ffc2df"/><stop offset="0.79" stop-color="#ffbad5"/><stop offset="0.86" stop-color="#ffb1cc"/><stop offset="0.93" stop-color="#ffaac3"/><stop offset="1" stop-color="#ffa2bb"/></linearGradient>
<linearGradient id="c36" x1="0" y1="0" x2="1" y2="0"><stop offset="0" stop-color="#ade0ff"/><stop offset="0.07" stop-color="#b7e0ff"/><stop offset="0.14" stop-color="#c3dfff"/><stop offset="0.21" stop-color="#cedfff"/><stop offset="0.29" stop-color="#d9dfff"/><stop offset="0.36" stop-color="#e5deff"/><stop offset="0.43" stop-color="#f1deff"/><stop offset="0.5" stop-color="#feddff"/><stop offset="0.57" stop-color="#ffd4f4"/><stop offset="0.64" stop-color="#ffcae9"/><stop offset="0.71" stop-color="#ffc1df"/><stop offset="0.79" stop-color="#ffb8d5"/><stop offset="0.86" stop-color="#ffb0cc"/><stop offset="0.93" stop-color="#ffa8c3"/><stop offset="1" stop-color="#ffa1bb"/></linearGradient>
<linearGradient id="c37" x1="0" y1="0" x2="1" y2="0"><stop offset="0" stop-color="#addeff"/><stop offset="0.07" stop-color="#b8ddff"/><stop offset="0.14" stop-color="#c3ddff"/><stop offset="0.21" stop-color="#ceddff"/><stop offset="0.29" stop-color="#d9dcff"/><stop offset="0.36" stop-color="#e5dcff"/><stop offset="0.43" stop-color="#f1dcff"/><stop offset="0.5" stop-color="#fddbff"/><stop offset="0.57" stop-color="#ffd2f5"/><stop offset="0.64" stop-color="#ffc8e9"/><stop offset="0.71" stop-color="#ffbfdf"/><stop offset="0.79" stop-color="#ffb6d5"/><stop offset="0.86" stop-color="#ffaecc"/><stop offset="0.93" stop-color="#ffa6c4"/><stop offset="1" stop-color="#ff9fbc"/></linearGradient>
<linearGradient id="c38" x1="0" y1="0" x2="1" y2="0"><stop offset="0" stop-color="#addcff"/><stop offset="0.07" stop-color="#b8dbff"/><stop offset="0.14" stop-color="#c3dbff"/><stop offset="0.21" stop-color="#cedaff"/><stop offset="0.29" stop-color="#d9daff"/><stop offset="0.36" stop-color="#e5daff"/><stop offset="0.43" stop-color="#f1d9ff"/><stop offset="0.5" stop-color="#fdd9ff"/><stop offset="0.57" stop-color="#ffd0f5"/><stop offset="0.64" stop-color="#ffc6ea"/><stop offset="0.71" stop-color="#ffbddf"/><stop offset="0.79" stop-color="#ffb4d6"/><stop offset="0.86" stop-color="#ffaccd"/><stop offset="0.93" stop-color="#ffa5c4"/><stop offset="1" stop-color="#ff9ebc"/></linearGradient>
<linearGradient id="c39" x1="0" y1="0" x2="1" y2="0"><stop offset="0" stop-color="#add9ff"/><stop offset="0.07" stop-color="#b8d9ff"/><stop offset="0.14" stop-color="#c3d9ff"/><stop offset="0.21" stop-color="#ced8ff"/><stop offset="0.29" stop-color="#d9d8ff"/><stop offset="0.36" stop-color="#e5d7ff"/><stop offset="0.43" stop-color="#f1d7ff"/><stop offset="0.5" stop-color="#fdd7ff"/><stop offset="0.57" stop-color="#ffcef5"/><stop offset="0.64" stop-color="#ffc4ea"/><stop offset="0.71" stop-color="#ffbbe0"/><stop offset="0.79" stop-color="#ffb2d6"/><stop offset="0.86" stop-color="#ffabcd"/><stop offset="0.93" stop-color="#ffa3c4"/><stop offset="1" stop-color="#ff9cbc"/></linearGradient>
<linearGradient id="c40" x1="0" y1="0" x2="1" y2="0"><stop offset="0" stop-color="#add7ff"/><stop offset="0.07" stop-color="#b8d7ff"/><stop offset="0.14" stop-color="#c3d7ff"/><stop offset="0.21" stop-color="#ced6ff"/><stop offset="0.29" stop-color="#d9d6ff"/><stop offset="0.36" stop-color="#e5d5ff"/><stop offset="0.43" stop-color="#f1d5ff"/><stop offset="0.5" stop-color="#fdd4ff"/><stop offset="0.57" stop-color="#ffccf5"/><stop offset="0.64" stop-color="#ffc2ea"/><stop offset="0.71" stop-color="#ffb9e0"/><stop offset="0.79" stop-color="#ffb1d6"/><stop offset="0.86" stop-color="#ffa9cd"/><stop offset="0.93" stop-color="#ffa1c5"/><stop offset="1" stop-color="#ff9bbd"/></linearGradient>
<linearGradient id="c41" x1="0" y1="0" x2="1" y2="0"><stop offset="0" stop-color="#add5ff"/><stop offset="0.07" stop-color="#b8d5ff"/><stop offset="0.14" stop-color="#c3d4ff"/><stop offset="0.21" stop-color="#ced4ff"/><stop offset="0.29" stop-color="#d9d4ff"/><stop offset="0.36" stop-color="#e5d3ff"/><stop offset="0.43" stop-color="#f1d3ff"/><stop offset="0.5" stop-color="#fdd2ff"/><stop offset="0.57" stop-color="#ffcaf5"/><stop offset="0.64" stop-color="#ffc0ea"/><stop offset="0.71" stop-color="#ffb7e0"/><stop offset="0.79" stop-color="#ffafd6"/><stop offset="0.86" stop-color="#ffa7cd"/><stop offset="0.93" stop-color="#ffa0c5"/><stop offset="1" stop-color="#ff99bd"/></linearGradient>
<linearGradient id="c42" x1="0" y1="0" x2="1" y2="0"><stop offset="0" stop-color="#add3ff"/><stop offset="0.07" stop-color="#b8d3ff"/><stop offset="0.14" stop-color="#c3d2ff"/><stop offset="0.21" stop-color="#ced2ff"/><stop offset="0.29" stop-color="#d9d1ff"/><stop offset="0.36" stop-color="#e5d1ff"/><stop offset="0.43" stop-color="#f1d0ff"/><stop offset="0.5" stop-color="#fdd0ff"/><stop offset="0.57" stop-color="#ffc8f6"/><stop offset="0.64" stop-color="#ffbeeb"/><stop offset="0.71" stop-color="#ffb5e0"/><stop offset="0.79" stop-color="#ffadd7"/><stop offset="0.86" stop-color="#ffa6ce"/><stop offset="0.93" stop-color="#ff9ec5"/><stop offset="1" stop-color="#ff97bd"/></linearGradient>
<linearGradient id="c43" x1="0" y1="0" x2="1" y2="0"><stop offset="0" stop-color="#add1ff"/><stop offset="0.07" stop-color="#b8d1ff"/><stop offset="0.14" stop-color="#c3d0ff"/><stop offset="0.21" stop-color="#ced0ff"/><stop offset="0.29" stop-color="#d9cfff"/><stop offset="0.36" stop-color="#e5cfff"/><stop offset="0.43" stop-color="#f0ceff"/><stop offset="0.5" stop-color="#fcceff"/><stop offset="0.57" stop-color="#ffc6f6"/><stop offset="0.64" stop-color="#ffbceb"/><stop offset="0.71" stop-color="#ffb4e1"/><stop offset="0.79" stop-color="#ffacd7"/><stop offset="0.86" stop-color="#ffa4ce"/><stop offset="0.93" stop-color="#ff9dc5"/><stop offset="1" stop-color="#ff96be"/></linearGradient>
<linearGradient id="c44" x1="0" y1="0" x2="1" y2="0"><stop offset="0" stop-color="#aecfff"/><stop offset="0.07" stop-color="#b8cfff"/><stop offset="0.14" stop-color="#c3ceff"/><stop offset="0.21" stop-color="#ceceff"/><stop offset="0.29" stop-color="#d9cdff"/><stop offset="0.36" stop-color="#e5cdff"/><stop offset="0.43" stop-color="#f0ccff"/><stop offset="0.5" stop-color="#fccbff"/><stop offset="0.57" stop-color="#ffc4f6"/><stop offset="0.64" stop-color="#ffbbeb"/><stop offset="0.71" stop-color="#ffb2e1"/><stop offset="0.79" stop-color="#ffaad7"/><stop offset="0.86" stop-color="#ffa2ce"/><stop offset="0.93" stop-color="#ff9bc6"/><stop offset="1" stop-color="#ff94be"/></linearGradient>
<linearGradient id="c45" x1="0" y1="0" x2="1" y2="0"><stop offset="0" stop-color="#aecdff"/><stop offset="0.07" stop-color="#b8ccff"/><stop offset="0.14" stop-color="#c3ccff"/><stop offset="0.21" stop-color="#cecbff"/><stop offset="0.29" stop-color="#d9cbff"/><stop offset="0.36" stop-color="#e5caff"/><stop offset="0.43" stop-color="#f0caff"/><stop offset="0.5" stop-color="#fcc9ff"/><stop offset="0.57" stop-color="#ffc2f6"/><stop offset="0.64" stop-color="#ffb9eb"/><stop offset="0.71" stop-color="#ffb0e1"/><stop offset="0.79" stop-color="#ffa8d7"/><stop offset="0.86" stop-color="#ffa1ce"/><stop offset="0.93" stop-color="#ff9ac6"/><stop offset="1" stop-color="#ff93be"/></linearGradient>
<linearGradient id="th1" x1="0" y1="0" x2="0" y2="1"><stop offset="0" stop-color="#2c2c2c"/><stop offset="1" stop-color="#343434"/></linearGradient>
<linearGradient id="th2" x1="0" y1="0" x2="0" y2="1"><stop offset="0" stop-color="#0e0e0e"/><stop offset="0.5" stop-color="#161616"/><stop offset="1" stop-color="#090909"/></linearGradient>
<linearGradient id="trd" x1="0" y1="0" x2="0" y2="1"><stop offset="0" stop-color="#464646"/><stop offset="1" stop-color="#3b3b3b"/></linearGradient>
<linearGradient id="trl" x1="0" y1="0" x2="0" y2="1"><stop offset="0" stop-color="#858585"/><stop offset="1" stop-color="#7d7d7d"/></linearGradient>
<linearGradient id="tsd" x1="0" y1="0" x2="0" y2="1"><stop offset="0" stop-color="#2a2a2a"/><stop offset="1" stop-color="#1b1b1b"/></linearGradient>
<linearGradient id="sb" x1="0" y1="0" x2="0" y2="1"><stop offset="0" stop-color="#5c5c5c"/><stop offset="0.85" stop-color="#666666"/><stop offset="1" stop-color="#767676"/></linearGradient>
</defs>
<rect x="0" y="0" width="2790" height="1501" fill="#333333"/>
<text y="183.4" font-size="70" fill="#f0f0f0"><tspan x="3.96" textLength="290.31" lengthAdjust="spacingAndGlyphs">Grayscale</tspan> <tspan x="309.34" textLength="25.92" lengthAdjust="spacingAndGlyphs">-</tspan> <tspan x="350.14" textLength="163.79" lengthAdjust="spacingAndGlyphs">Multi</tspan></text>
<text y="261.6" font-size="32" fill="#f0f0f0"><tspan x="176.18" textLength="38.36" lengthAdjust="spacingAndGlyphs">dE</tspan> <tspan x="221.63" textLength="138.17" lengthAdjust="spacingAndGlyphs">Formula:</tspan></text>
<rect x="370.5" y="226.5" width="250" height="45" fill="#272727"/>
<rect x="372.5" y="228.5" width="246" height="41" fill="url(#dd)"/>
<text transform="translate(378.26 263) scale(1.0073 1)" font-size="26.5" fill="#f0f0f0">2000</text>
<path d="M593.8 246.2 L609.8 246.2 L601.8 255.2 Z" fill="#000"/>
<rect x="105" y="325.4" width="482.6" height="384.4" fill="#222222"/>
<text transform="translate(239.69 315.8) scale(1.0061 1)" font-size="24.3" fill="#d4d4d4">DeltaE 2000</text>
<rect x="167.7" y="325.4" width="2" height="384.4" fill="#8f8f8f"/>
<rect x="231.6" y="325.4" width="2" height="384.4" fill="#8f8f8f"/>
<rect x="295.5" y="325.4" width="2" height="384.4" fill="#8f8f8f"/>
<rect x="359" y="325.4" width="2" height="384.4" fill="#8f8f8f"/>
<rect x="425.8" y="325.4" width="2" height="384.4" fill="#8f8f8f"/>
<rect x="489.7" y="325.4" width="2" height="384.4" fill="#8f8f8f"/>
<rect x="553" y="325.4" width="2" height="384.4" fill="#8f8f8f"/>
<rect x="104" y="324.4" width="484.6" height="2" fill="#9a9a9a"/>
<rect x="104" y="708.8" width="484.6" height="2" fill="#9a9a9a"/>
<rect x="104" y="325.4" width="2" height="384.4" fill="#9a9a9a"/>
<rect x="586.6" y="325.4" width="2" height="384.4" fill="#9a9a9a"/>
<rect x="104" y="709.8" width="2.4" height="10.2" fill="#d4d4d4"/>
<text transform="translate(97.34 746.4) scale(0.9900 1)" font-size="24.2" fill="#d4d4d4">0</text>
<rect x="167.5" y="709.8" width="2.4" height="10.2" fill="#d4d4d4"/>
<text transform="translate(160.84 746.4) scale(0.9900 1)" font-size="24.2" fill="#d4d4d4">2</text>
<rect x="231.4" y="709.8" width="2.4" height="10.2" fill="#d4d4d4"/>
<text transform="translate(224.81 746.4) scale(0.9900 1)" font-size="24.2" fill="#d4d4d4">4</text>
<rect x="295.3" y="709.8" width="2.4" height="10.2" fill="#d4d4d4"/>
<text transform="translate(288.56 746.4) scale(0.9900 1)" font-size="24.2" fill="#d4d4d4">6</text>
<rect x="358.8" y="709.8" width="2.4" height="10.2" fill="#d4d4d4"/>
<text transform="translate(352.14 746.4) scale(0.9900 1)" font-size="24.2" fill="#d4d4d4">8</text>
<rect x="425.6" y="709.8" width="2.4" height="10.2" fill="#d4d4d4"/>
<text transform="translate(411.83 746.4) scale(0.9900 1)" font-size="24.2" fill="#d4d4d4">10</text>
<rect x="489.5" y="709.8" width="2.4" height="10.2" fill="#d4d4d4"/>
<text transform="translate(475.87 746.4) scale(0.9900 1)" font-size="24.2" fill="#d4d4d4">12</text>
<rect x="552.8" y="709.8" width="2.4" height="10.2" fill="#d4d4d4"/>
<text transform="translate(538.91 746.4) scale(0.9900 1)" font-size="24.2" fill="#d4d4d4">14</text>
<rect x="106" y="692.2" width="2.2" height="12.6" fill="#000"/>
<rect x="106" y="673.89" width="22.5" height="12.6" fill="#000"/>
<rect x="106" y="675.89" width="20" height="8.5" fill="url(#b1)"/>
<rect x="106" y="655.59" width="38.6" height="12.6" fill="#000"/>
<rect x="106" y="657.59" width="36.1" height="8.5" fill="url(#b2)"/>
<rect x="106" y="637.28" width="47.8" height="12.6" fill="#000"/>
<rect x="106" y="639.28" width="45.3" height="8.5" fill="url(#b3)"/>
<rect x="106" y="618.98" width="49.5" height="12.6" fill="#000"/>
<rect x="106" y="620.98" width="47" height="8.5" fill="url(#b4)"/>
<rect x="106" y="600.67" width="70.7" height="12.6" fill="#000"/>
<rect x="106" y="602.67" width="68.2" height="8.5" fill="url(#b5)"/>
<rect x="106" y="582.37" width="106.7" height="12.6" fill="#000"/>
<rect x="106" y="584.37" width="104.2" height="8.5" fill="url(#b6)"/>
<rect x="106" y="564.06" width="60.6" height="12.6" fill="#000"/>
<rect x="106" y="566.06" width="58.1" height="8.5" fill="url(#b7)"/>
<rect x="106" y="545.76" width="79.7" height="12.6" fill="#000"/>
<rect x="106" y="547.76" width="77.2" height="8.5" fill="url(#b8)"/>
<rect x="106" y="527.45" width="76.7" height="12.6" fill="#000"/>
<rect x="106" y="529.45" width="74.2" height="8.5" fill="url(#b9)"/>
<rect x="106" y="509.15" width="51.6" height="12.6" fill="#000"/>
<rect x="106" y="511.15" width="49.1" height="8.5" fill="url(#b10)"/>
<rect x="106" y="490.84" width="38.6" height="12.6" fill="#000"/>
<rect x="106" y="492.84" width="36.1" height="8.5" fill="url(#b11)"/>
<rect x="106" y="472.54" width="65.6" height="12.6" fill="#000"/>
<rect x="106" y="474.54" width="63.1" height="8.5" fill="url(#b12)"/>
<rect x="106" y="454.23" width="22.5" height="12.6" fill="#000"/>
<rect x="106" y="456.23" width="20" height="8.5" fill="url(#b13)"/>
<rect x="106" y="435.93" width="17.4" height="12.6" fill="#000"/>
<rect x="106" y="437.93" width="14.9" height="8.5" fill="url(#b14)"/>
<rect x="106" y="417.62" width="56.7" height="12.6" fill="#000"/>
<rect x="106" y="419.62" width="54.2" height="8.5" fill="url(#b15)"/>
<rect x="106" y="399.32" width="44.8" height="12.6" fill="#000"/>
<rect x="106" y="401.32" width="42.3" height="8.5" fill="url(#b16)"/>
<rect x="106" y="381.01" width="51.6" height="12.6" fill="#000"/>
<rect x="106" y="383.01" width="49.1" height="8.5" fill="url(#b17)"/>
<rect x="106" y="362.71" width="56.7" height="12.6" fill="#000"/>
<rect x="106" y="364.71" width="54.2" height="8.5" fill="url(#b18)"/>
<rect x="106" y="344.4" width="38.7" height="12.6" fill="#000"/>
<rect x="106" y="346.4" width="36.2" height="8.5" fill="url(#b19)"/>
<rect x="106" y="326.1" width="8.7" height="12.6" fill="#000"/>
<rect x="106" y="328.1" width="6.2" height="8.5" fill="url(#b20)"/>
<rect x="93.5" y="324.3" width="10.5" height="2.2" fill="#d4d4d4"/>
<rect x="93.5" y="342.6" width="10.5" height="2.2" fill="#d4d4d4"/>
<rect x="93.5" y="360.91" width="10.5" height="2.2" fill="#d4d4d4"/>
<rect x="93.5" y="379.21" width="10.5" height="2.2" fill="#d4d4d4"/>
<rect x="93.5" y="397.52" width="10.5" height="2.2" fill="#d4d4d4"/>
<rect x="93.5" y="415.82" width="10.5" height="2.2" fill="#d4d4d4"/>
<rect x="93.5" y="434.13" width="10.5" height="2.2" fill="#d4d4d4"/>
<rect x="93.5" y="452.43" width="10.5" height="2.2" fill="#d4d4d4"/>
<rect x="93.5" y="470.74" width="10.5" height="2.2" fill="#d4d4d4"/>
<rect x="93.5" y="489.04" width="10.5" height="2.2" fill="#d4d4d4"/>
<rect x="93.5" y="507.35" width="10.5" height="2.2" fill="#d4d4d4"/>
<rect x="93.5" y="525.65" width="10.5" height="2.2" fill="#d4d4d4"/>
<rect x="93.5" y="543.96" width="10.5" height="2.2" fill="#d4d4d4"/>
<rect x="93.5" y="562.26" width="10.5" height="2.2" fill="#d4d4d4"/>
<rect x="93.5" y="580.57" width="10.5" height="2.2" fill="#d4d4d4"/>
<rect x="93.5" y="598.87" width="10.5" height="2.2" fill="#d4d4d4"/>
<rect x="93.5" y="617.18" width="10.5" height="2.2" fill="#d4d4d4"/>
<rect x="93.5" y="635.48" width="10.5" height="2.2" fill="#d4d4d4"/>
<rect x="93.5" y="653.79" width="10.5" height="2.2" fill="#d4d4d4"/>
<rect x="93.5" y="672.09" width="10.5" height="2.2" fill="#d4d4d4"/>
<rect x="93.5" y="690.4" width="10.5" height="2.2" fill="#d4d4d4"/>
<rect x="93.5" y="708.7" width="10.5" height="2.2" fill="#d4d4d4"/>
<text transform="translate(79.91 710.65) scale(0.9900 1)" font-size="24.2" fill="#d4d4d4">0</text>
<text transform="translate(38.88 692.34) scale(0.9900 1)" font-size="24.2" fill="#d4d4d4">5</text>
<text transform="translate(66.59 674.04) scale(0.9900 1)" font-size="24.2" fill="#d4d4d4">10</text>
<text transform="translate(25.56 655.73) scale(0.9900 1)" font-size="24.2" fill="#d4d4d4">15</text>
<text transform="translate(66.59 637.43) scale(0.9900 1)" font-size="24.2" fill="#d4d4d4">20</text>
<text transform="translate(25.56 619.12) scale(0.9900 1)" font-size="24.2" fill="#d4d4d4">25</text>
<text transform="translate(66.59 600.82) scale(0.9900 1)" font-size="24.2" fill="#d4d4d4">30</text>
<text transform="translate(25.56 582.51) scale(0.9900 1)" font-size="24.2" fill="#d4d4d4">35</text>
<text transform="translate(66.59 564.21) scale(0.9900 1)" font-size="24.2" fill="#d4d4d4">40</text>
<text transform="translate(25.56 545.9) scale(0.9900 1)" font-size="24.2" fill="#d4d4d4">45</text>
<text transform="translate(66.59 527.6) scale(0.9900 1)" font-size="24.2" fill="#d4d4d4">50</text>
<text transform="translate(25.56 509.3) scale(0.9900 1)" font-size="24.2" fill="#d4d4d4">55</text>
<text transform="translate(66.59 490.99) scale(0.9900 1)" font-size="24.2" fill="#d4d4d4">60</text>
<text transform="translate(25.56 472.69) scale(0.9900 1)" font-size="24.2" fill="#d4d4d4">65</text>
<text transform="translate(66.59 454.38) scale(0.9900 1)" font-size="24.2" fill="#d4d4d4">70</text>
<text transform="translate(25.56 436.08) scale(0.9900 1)" font-size="24.2" fill="#d4d4d4">75</text>
<text transform="translate(66.59 417.77) scale(0.9900 1)" font-size="24.2" fill="#d4d4d4">80</text>
<text transform="translate(25.56 399.47) scale(0.9900 1)" font-size="24.2" fill="#d4d4d4">85</text>
<text transform="translate(66.59 381.16) scale(0.9900 1)" font-size="24.2" fill="#d4d4d4">90</text>
<text transform="translate(25.56 362.86) scale(0.9900 1)" font-size="24.2" fill="#d4d4d4">95</text>
<text transform="translate(53.26 342.95) scale(0.9900 1)" font-size="24.2" fill="#d4d4d4">100</text>
<rect x="699" y="175" width="960.8" height="534.9" fill="#222222"/>
<text transform="translate(1086.28 168.1) scale(0.9491 1)" font-size="24.6" fill="#d4d4d4">RGB Balance</text>
<rect x="699" y="243.8" width="960.8" height="2" fill="#8f8f8f"/>
<rect x="699" y="310" width="960.8" height="2" fill="#8f8f8f"/>
<rect x="699" y="375.9" width="960.8" height="2" fill="#8f8f8f"/>
<rect x="699" y="444.7" width="960.8" height="2" fill="#8f8f8f"/>
<rect x="699" y="510.8" width="960.8" height="2" fill="#8f8f8f"/>
<rect x="699" y="576.8" width="960.8" height="2" fill="#8f8f8f"/>
<rect x="699" y="642.9" width="960.8" height="2" fill="#8f8f8f"/>
<rect x="698" y="174.9" width="962.8" height="5.2" fill="#8e8e8e"/>
<rect x="698" y="174.9" width="962.8" height="2.6" fill="#a6a6a6"/>
<rect x="698" y="708.9" width="962.8" height="2.6" fill="#9a9a9a"/>
<rect x="698" y="175" width="2" height="534.9" fill="#9a9a9a"/>
<rect x="1658.8" y="175" width="2" height="534.9" fill="#9a9a9a"/>
<rect x="688.9" y="177.7" width="9.1" height="2.4" fill="#d4d4d4"/>
<text transform="translate(662.14 188.3) scale(0.9800 1)" font-size="24.4" fill="#d4d4d4">40</text>
<rect x="688.9" y="243.6" width="9.1" height="2.4" fill="#d4d4d4"/>
<text transform="translate(662.14 254.2) scale(0.9800 1)" font-size="24.4" fill="#d4d4d4">30</text>
<rect x="688.9" y="309.8" width="9.1" height="2.4" fill="#d4d4d4"/>
<text transform="translate(662.14 320.4) scale(0.9800 1)" font-size="24.4" fill="#d4d4d4">20</text>
<rect x="688.9" y="375.7" width="9.1" height="2.4" fill="#d4d4d4"/>
<text transform="translate(662.14 386.3) scale(0.9800 1)" font-size="24.4" fill="#d4d4d4">10</text>
<rect x="688.9" y="444.5" width="9.1" height="2.4" fill="#d4d4d4"/>
<text transform="translate(675.44 455.1) scale(0.9800 1)" font-size="24.4" fill="#d4d4d4">0</text>
<rect x="688.9" y="510.6" width="9.1" height="2.4" fill="#d4d4d4"/>
<text transform="translate(654.17 521.2) scale(0.9800 1)" font-size="24.4" fill="#d4d4d4">-10</text>
<rect x="688.9" y="576.6" width="9.1" height="2.4" fill="#d4d4d4"/>
<text transform="translate(654.17 587.2) scale(0.9800 1)" font-size="24.4" fill="#d4d4d4">-20</text>
<rect x="688.9" y="642.7" width="9.1" height="2.4" fill="#d4d4d4"/>
<text transform="translate(654.17 653.3) scale(0.9800 1)" font-size="24.4" fill="#d4d4d4">-30</text>
<rect x="688.9" y="708.7" width="9.1" height="2.4" fill="#d4d4d4"/>
<text transform="translate(654.17 722.1) scale(0.9800 1)" font-size="24.4" fill="#d4d4d4">-40</text>
<rect x="697.8" y="709.9" width="2.4" height="10" fill="#d4d4d4"/>
<text transform="translate(691.31 745.8)" font-size="24.4" fill="#d4d4d4">0</text>
<rect x="793.7" y="709.9" width="2.4" height="10" fill="#d4d4d4"/>
<text transform="translate(780.16 745.8)" font-size="24.4" fill="#d4d4d4">10</text>
<rect x="889.6" y="709.9" width="2.4" height="10" fill="#d4d4d4"/>
<text transform="translate(876.55 745.8)" font-size="24.4" fill="#d4d4d4">20</text>
<rect x="985.5" y="709.9" width="2.4" height="10" fill="#d4d4d4"/>
<text transform="translate(972.78 745.8)" font-size="24.4" fill="#d4d4d4">30</text>
<rect x="1081.2" y="709.9" width="2.4" height="10" fill="#d4d4d4"/>
<text transform="translate(1069.05 745.8)" font-size="24.4" fill="#d4d4d4">40</text>
<rect x="1177.4" y="709.9" width="2.4" height="10" fill="#d4d4d4"/>
<text transform="translate(1164.92 745.8)" font-size="24.4" fill="#d4d4d4">50</text>
<rect x="1272.6" y="709.9" width="2.4" height="10" fill="#d4d4d4"/>
<text transform="translate(1261.77 745.8)" font-size="24.4" fill="#d4d4d4">60</text>
<rect x="1368.6" y="709.9" width="2.4" height="10" fill="#d4d4d4"/>
<text transform="translate(1357.84 745.8)" font-size="24.4" fill="#d4d4d4">70</text>
<rect x="1464.6" y="709.9" width="2.4" height="10" fill="#d4d4d4"/>
<text transform="translate(1454.02 745.8)" font-size="24.4" fill="#d4d4d4">80</text>
<rect x="1562.4" y="709.9" width="2.4" height="10" fill="#d4d4d4"/>
<text transform="translate(1550.05 745.8)" font-size="24.4" fill="#d4d4d4">90</text>
<rect x="1658.6" y="709.9" width="2.4" height="10" fill="#d4d4d4"/>
<text transform="translate(1638.99 745.8)" font-size="24.4" fill="#d4d4d4">100</text>
<clipPath id="lc"><rect x="700" y="176" width="959.8" height="532.9"/></clipPath>
<polyline points="699.2,441.5 747.22,443.5 795.24,450.8 843.26,448 891.28,444 939.3,440.3 987.32,437.2 1035.34,435 1083.36,434.3 1131.38,431.8 1179.4,435.7 1227.42,439.1 1275.44,439.6 1323.46,440.6 1371.48,442 1419.5,440.9 1467.52,442.5 1515.54,444 1563.56,445.4 1611.58,441.5 1659.6,445" fill="none" stroke="#f01010" stroke-width="5" stroke-linejoin="round" clip-path="url(#lc)"/>
<polyline points="699.2,442.6 747.22,446.2 795.24,455.6 843.26,458 891.28,458 939.3,458.4 987.32,462.4 1035.34,451.5 1083.36,453.9 1131.38,451.2 1179.4,449.3 1227.42,449.3 1275.44,455.1 1323.46,446.4 1371.48,446.9 1419.5,453.6 1467.52,453.2 1515.54,452.7 1563.56,452.5 1611.58,450.3 1659.6,444" fill="none" stroke="#0a830a" stroke-width="5" stroke-linejoin="round" clip-path="url(#lc)"/>
<polyline points="699.2,441 747.22,441 795.24,448.8 843.26,452.7 891.28,455.1 939.3,455.4 987.32,453.7 1035.34,459 1083.36,458 1131.38,457.6 1179.4,457.2 1227.42,457.1 1275.44,452.2 1323.46,452.2 1371.48,450.8 1419.5,446.3 1467.52,443.5 1515.54,442 1563.56,441 1611.58,443 1659.6,439.1" fill="none" stroke="#0505f5" stroke-width="5" stroke-linejoin="round" clip-path="url(#lc)"/>
<rect x="1746.3" y="175" width="233.3" height="543.6" fill="#222222"/>
<text transform="translate(1776.79 167.7) scale(0.9463 1)" font-size="24.6" fill="#d4d4d4">RGB Balance</text>
<rect x="1746.3" y="245.9" width="233.3" height="2" fill="#8f8f8f"/>
<rect x="1746.3" y="313" width="233.3" height="2" fill="#8f8f8f"/>
<rect x="1746.3" y="380.7" width="233.3" height="2" fill="#8f8f8f"/>
<rect x="1746.3" y="448.4" width="233.3" height="2" fill="#8f8f8f"/>
<rect x="1746.3" y="516.1" width="233.3" height="2" fill="#8f8f8f"/>
<rect x="1746.3" y="583.5" width="233.3" height="2" fill="#8f8f8f"/>
<rect x="1746.3" y="652.4" width="233.3" height="2" fill="#8f8f8f"/>
<rect x="1745.3" y="174.9" width="235.3" height="5.2" fill="#8e8e8e"/>
<rect x="1745.3" y="174.9" width="235.3" height="2.6" fill="#a6a6a6"/>
<rect x="1745.3" y="717.6" width="235.3" height="2.6" fill="#9a9a9a"/>
<rect x="1745.3" y="175" width="2" height="543.6" fill="#9a9a9a"/>
<rect x="1978.6" y="175" width="2" height="543.6" fill="#9a9a9a"/>
<rect x="1737" y="177.7" width="8.3" height="2.4" fill="#d4d4d4"/>
<text transform="translate(1723.3 188.5) scale(0.9800 1)" font-size="24.4" fill="#d4d4d4">4</text>
<rect x="1737" y="245.7" width="8.3" height="2.4" fill="#d4d4d4"/>
<text transform="translate(1723.65 256.5) scale(0.9800 1)" font-size="24.4" fill="#d4d4d4">3</text>
<rect x="1737" y="312.8" width="8.3" height="2.4" fill="#d4d4d4"/>
<text transform="translate(1723.8 323.6) scale(0.9800 1)" font-size="24.4" fill="#d4d4d4">2</text>
<rect x="1737" y="380.5" width="8.3" height="2.4" fill="#d4d4d4"/>
<text transform="translate(1723.77 391.3) scale(0.9800 1)" font-size="24.4" fill="#d4d4d4">1</text>
<rect x="1737" y="448.2" width="8.3" height="2.4" fill="#d4d4d4"/>
<text transform="translate(1723.54 459) scale(0.9800 1)" font-size="24.4" fill="#d4d4d4">0</text>
<rect x="1737" y="515.9" width="8.3" height="2.4" fill="#d4d4d4"/>
<text transform="translate(1715.81 526.7) scale(0.9800 1)" font-size="24.4" fill="#d4d4d4">-1</text>
<rect x="1737" y="583.3" width="8.3" height="2.4" fill="#d4d4d4"/>
<text transform="translate(1715.84 594.1) scale(0.9800 1)" font-size="24.4" fill="#d4d4d4">-2</text>
<rect x="1737" y="652.2" width="8.3" height="2.4" fill="#d4d4d4"/>
<text transform="translate(1715.69 663) scale(0.9800 1)" font-size="24.4" fill="#d4d4d4">-3</text>
<rect x="1737" y="717.4" width="8.3" height="2.4" fill="#d4d4d4"/>
<text transform="translate(1715.34 731.2) scale(0.9800 1)" font-size="24.4" fill="#d4d4d4">-4</text>
<rect x="1745.1" y="718.6" width="2.4" height="10.4" fill="#d4d4d4"/>
<rect x="1978.4" y="718.6" width="2.4" height="10.4" fill="#d4d4d4"/>
<text transform="translate(1842.11 745.7) scale(0.9800 1)" font-size="24.4" fill="#d4d4d4">100</text>
<rect x="1768.3" y="448.4" width="61.3" height="20.9" fill="#000"/>
<rect x="1770.3" y="450.4" width="57.3" height="16.9" fill="url(#gr)"/>
<rect x="1829.8" y="442.2" width="61.2" height="8.2" fill="#000"/>
<rect x="1831.8" y="444.4" width="57.2" height="3" fill="#2a7d2a"/>
<rect x="1891.2" y="424.3" width="62" height="26.1" fill="#000"/>
<rect x="1893.2" y="426.4" width="58" height="21" fill="url(#gb)"/>
<rect x="2078.8" y="175" width="666.2" height="535.2" fill="#222222"/>
<text transform="translate(2297.56 167.6) scale(1.0060 1)" font-size="24.6" fill="#d4d4d4">Gamma Log/Log</text>
<rect x="2078.8" y="285" width="666.2" height="2" fill="#8f8f8f"/>
<rect x="2078.8" y="390.2" width="666.2" height="2" fill="#8f8f8f"/>
<rect x="2078.8" y="496.9" width="666.2" height="2" fill="#8f8f8f"/>
<rect x="2078.8" y="604.7" width="666.2" height="2" fill="#8f8f8f"/>
<rect x="2077.8" y="174.9" width="668.2" height="5.2" fill="#8e8e8e"/>
<rect x="2077.8" y="174.9" width="668.2" height="2.6" fill="#a6a6a6"/>
<rect x="2077.8" y="709.2" width="668.2" height="2.6" fill="#9a9a9a"/>
<rect x="2077.8" y="175" width="2" height="535.2" fill="#9a9a9a"/>
<rect x="2744" y="175" width="2" height="535.2" fill="#9a9a9a"/>
<rect x="2068.5" y="177.7" width="9.3" height="2.4" fill="#d4d4d4"/>
<text transform="translate(2033.16 188.5) scale(1.0300 1)" font-size="24.4" fill="#d4d4d4">2,8</text>
<rect x="2068.5" y="284.8" width="9.3" height="2.4" fill="#d4d4d4"/>
<text transform="translate(2033.17 295.6) scale(1.0300 1)" font-size="24.4" fill="#d4d4d4">2,6</text>
<rect x="2068.5" y="390" width="9.3" height="2.4" fill="#d4d4d4"/>
<text transform="translate(2032.8 400.8) scale(1.0300 1)" font-size="24.4" fill="#d4d4d4">2,4</text>
<rect x="2068.5" y="496.7" width="9.3" height="2.4" fill="#d4d4d4"/>
<text transform="translate(2033.33 507.5) scale(1.0300 1)" font-size="24.4" fill="#d4d4d4">2,2</text>
<rect x="2068.5" y="604.5" width="9.3" height="2.4" fill="#d4d4d4"/>
<text transform="translate(2054.9 615.3) scale(0.9800 1)" font-size="24.4" fill="#d4d4d4">2</text>
<rect x="2068.5" y="709" width="9.3" height="2.4" fill="#d4d4d4"/>
<text transform="translate(2033.16 722.6) scale(1.0300 1)" font-size="24.4" fill="#d4d4d4">1,8</text>
<rect x="2077.6" y="710.2" width="2.4" height="10" fill="#d4d4d4"/>
<text transform="translate(2071.41 745.5)" font-size="24.4" fill="#d4d4d4">0</text>
<rect x="2210.4" y="710.2" width="2.4" height="10" fill="#d4d4d4"/>
<text transform="translate(2197.29 745.5)" font-size="24.4" fill="#d4d4d4">20</text>
<rect x="2343.2" y="710.2" width="2.4" height="10" fill="#d4d4d4"/>
<text transform="translate(2330.43 745.5)" font-size="24.4" fill="#d4d4d4">40</text>
<rect x="2476" y="710.2" width="2.4" height="10" fill="#d4d4d4"/>
<text transform="translate(2462.89 745.5)" font-size="24.4" fill="#d4d4d4">60</text>
<rect x="2608.8" y="710.2" width="2.4" height="10" fill="#d4d4d4"/>
<text transform="translate(2595.78 745.5)" font-size="24.4" fill="#d4d4d4">80</text>
<rect x="2741.6" y="710.2" width="2.4" height="10" fill="#d4d4d4"/>
<text transform="translate(2723.49 745.5)" font-size="24.4" fill="#d4d4d4">100</text>
<clipPath id="gc"><rect x="2079.8" y="176" width="664.2" height="533.2"/></clipPath>
<polyline points="2092.4,850 2109.6,475.2 2144.5,473.6 2177.7,477.2 2210,480.5 2244.5,481.2 2276.7,476 2310,487.9 2343.3,483.6 2376.7,487.1 2410,488.3 2444.8,486.4 2478.1,477.1 2511.4,487.9 2544.8,484.3 2578.1,471.7 2610.2,465.2 2643.6,459.8 2678.1,440.7 2710.2,415.7 2743.6,493.1" fill="none" stroke="#8a8a8a" stroke-width="4.2" stroke-linejoin="miter" clip-path="url(#gc)"/>
<polyline points="2084.6,760 2085.2,660 2086.2,605.7 2089,570 2093.3,539.5 2098,526 2104,516.9 2114.8,508.6 2124,504 2133.8,500.7 2148,498.6 2164.8,497.4 2190,496.5 2211,496 2743.5,495.8" fill="none" stroke="#ffff20" stroke-width="5" stroke-linejoin="round" clip-path="url(#gc)"/>
<text y="816" font-size="51" fill="#f0f0f0"><tspan x="136.6" textLength="83.35" lengthAdjust="spacingAndGlyphs">Avg</tspan> <tspan x="231.09" textLength="187.41" lengthAdjust="spacingAndGlyphs">dE2000:</tspan> <tspan x="429.79" textLength="71.37" lengthAdjust="spacingAndGlyphs">1,6</tspan></text>
<text y="816" font-size="51" fill="#f0f0f0"><tspan x="826.61" textLength="82.93" lengthAdjust="spacingAndGlyphs">Avg</tspan> <tspan x="920.42" textLength="99.57" lengthAdjust="spacingAndGlyphs">CCT:</tspan> <tspan x="1031.49" textLength="114.37" lengthAdjust="spacingAndGlyphs">6383</tspan></text>
<text y="816" font-size="51" fill="#f0f0f0"><tspan x="1453.81" textLength="192.56" lengthAdjust="spacingAndGlyphs">Contrast</tspan> <tspan x="1659.5" textLength="133.88" lengthAdjust="spacingAndGlyphs">Ratio:</tspan> <tspan x="1804.15" textLength="115.3" lengthAdjust="spacingAndGlyphs">8168</tspan></text>
<text y="816" font-size="51" fill="#f0f0f0"><tspan x="2139.4" textLength="183.19" lengthAdjust="spacingAndGlyphs">Average</tspan> <tspan x="2333.32" textLength="196.97" lengthAdjust="spacingAndGlyphs">Gamma:</tspan> <tspan x="2540.71" textLength="100.3" lengthAdjust="spacingAndGlyphs">2,24</tspan></text>
<rect x="0" y="849" width="2790" height="220" fill="#000000"/>
<rect x="2788.6" y="849" width="1.4" height="220" fill="#0a0a0a"/>
<rect x="152" y="849" width="1" height="220" fill="#0b0b0b"/>
<text transform="translate(174.6 925.44) rotate(-90) scale(1.0262 1)" font-size="20.6" fill="#ffffff">Actual</text>
<text transform="translate(174.6 1021.97) rotate(-90) scale(1.0117 1)" font-size="20.6" fill="#ffffff">Target</text>
<rect x="182" y="859" width="106" height="172" fill="#ffffff"/>
<rect x="184" y="861" width="102" height="168" fill="url(#sw0)"/>
<text transform="translate(229.27 1053.6)" font-size="20.6" fill="#ffffff">0</text>
<rect x="306" y="859" width="106" height="172" fill="#ffffff"/>
<rect x="308" y="861" width="102" height="168" fill="url(#sw1)"/>
<text transform="translate(353.29 1053.6)" font-size="20.6" fill="#ffffff">5</text>
<rect x="429" y="859" width="106" height="172" fill="#ffffff"/>
<rect x="431" y="861" width="102" height="168" fill="url(#sw2)"/>
<text transform="translate(470.16 1053.6)" font-size="20.6" fill="#ffffff">10</text>
<rect x="552" y="859" width="106" height="172" fill="#ffffff"/>
<rect x="554" y="861" width="102" height="168" fill="url(#sw3)"/>
<text transform="translate(593.19 1053.6)" font-size="20.6" fill="#ffffff">15</text>
<rect x="676" y="859" width="106" height="172" fill="#ffffff"/>
<rect x="678" y="861" width="102" height="168" fill="url(#sw4)"/>
<text transform="translate(717.43 1053.6)" font-size="20.6" fill="#ffffff">20</text>
<rect x="799" y="859" width="106" height="172" fill="#ffffff"/>
<rect x="801" y="861" width="102" height="168" fill="url(#sw5)"/>
<text transform="translate(840.46 1053.6)" font-size="20.6" fill="#ffffff">25</text>
<rect x="923" y="859" width="106" height="172" fill="#ffffff"/>
<rect x="925" y="861" width="102" height="168" fill="url(#sw6)"/>
<text transform="translate(964.55 1053.6)" font-size="20.6" fill="#ffffff">30</text>
<rect x="1046" y="859" width="106" height="172" fill="#ffffff"/>
<rect x="1048" y="861" width="102" height="168" fill="url(#sw7)"/>
<text transform="translate(1087.58 1053.6)" font-size="20.6" fill="#ffffff">35</text>
<rect x="1169" y="859" width="106" height="172" fill="#ffffff"/>
<rect x="1171" y="861" width="102" height="168" fill="url(#sw8)"/>
<text transform="translate(1210.71 1053.6)" font-size="20.6" fill="#ffffff">40</text>
<rect x="1293" y="859" width="106" height="172" fill="#ffffff"/>
<rect x="1295" y="861" width="102" height="168" fill="url(#sw9)"/>
<text transform="translate(1334.74 1053.6)" font-size="20.6" fill="#ffffff">45</text>
<rect x="1416" y="859" width="106" height="172" fill="#ffffff"/>
<rect x="1418" y="861" width="102" height="168" fill="url(#sw10)"/>
<text transform="translate(1457.53 1053.6)" font-size="20.6" fill="#ffffff">50</text>
<rect x="1539" y="859" width="106" height="172" fill="#ffffff"/>
<rect x="1541" y="861" width="102" height="168" fill="url(#sw11)"/>
<text transform="translate(1580.56 1053.6)" font-size="20.6" fill="#ffffff">55</text>
<rect x="1663" y="859" width="106" height="172" fill="#ffffff"/>
<rect x="1665" y="861" width="102" height="168" fill="url(#sw12)"/>
<text transform="translate(1704.42 1053.6)" font-size="20.6" fill="#ffffff">60</text>
<rect x="1786" y="859" width="106" height="172" fill="#ffffff"/>
<rect x="1788" y="861" width="102" height="168" fill="url(#sw13)"/>
<text transform="translate(1827.45 1053.6)" font-size="20.6" fill="#ffffff">65</text>
<rect x="1910" y="859" width="106" height="172" fill="#ffffff"/>
<rect x="1912" y="861" width="102" height="168" fill="url(#sw14)"/>
<text transform="translate(1951.42 1053.6)" font-size="20.6" fill="#ffffff">70</text>
<rect x="2033" y="859" width="106" height="172" fill="#ffffff"/>
<rect x="2035" y="861" width="102" height="168" fill="rgb(161,161,161)"/>
<rect x="2036" y="862" width="100" height="166" fill="url(#sw15)"/>
<text transform="translate(2074.45 1053.6)" font-size="20.6" fill="#ffffff">75</text>
<rect x="2156" y="859" width="106" height="172" fill="#ffffff"/>
<rect x="2158" y="861" width="102" height="168" fill="rgb(174,174,174)"/>
<rect x="2159" y="862" width="100" height="166" fill="url(#sw16)"/>
<text transform="translate(2197.5 1053.6)" font-size="20.6" fill="#ffffff">80</text>
<rect x="2280" y="859" width="106" height="172" fill="#ffffff"/>
<rect x="2282" y="861" width="102" height="168" fill="rgb(187,187,187)"/>
<rect x="2283" y="862" width="100" height="166" fill="url(#sw17)"/>
<text transform="translate(2321.53 1053.6)" font-size="20.6" fill="#ffffff">85</text>
<rect x="2403" y="859" width="106" height="172" fill="#ffffff"/>
<rect x="2405" y="861" width="102" height="168" fill="rgb(200,200,200)"/>
<rect x="2406" y="862" width="100" height="166" fill="url(#sw18)"/>
<text transform="translate(2444.46 1053.6)" font-size="20.6" fill="#ffffff">90</text>
<rect x="2527" y="859" width="106" height="172" fill="#ffffff"/>
<rect x="2529" y="861" width="102" height="168" fill="rgb(212,212,212)"/>
<rect x="2530" y="862" width="100" height="166" fill="url(#sw19)"/>
<text transform="translate(2568.49 1053.6)" font-size="20.6" fill="#ffffff">95</text>
<rect x="2650" y="859" width="106" height="172" fill="#ffffff"/>
<rect x="2652" y="861" width="102" height="168" fill="rgb(225,225,225)"/>
<rect x="2653" y="862" width="100" height="166" fill="url(#sw20)"/>
<text transform="translate(2685.43 1053.6)" font-size="20.6" fill="#ffffff">100</text>
<text y="1180.8" font-size="51" fill="#f0f0f0"><tspan x="26.26" textLength="173.12" lengthAdjust="spacingAndGlyphs">Current</tspan> <tspan x="213.04" textLength="184.35" lengthAdjust="spacingAndGlyphs">Reading</tspan></text>
<text y="1251" font-size="42" fill="#f0f0f0"><tspan x="27.52" textLength="33.17" lengthAdjust="spacingAndGlyphs">x:</tspan> <tspan x="70.02" textLength="131.34" lengthAdjust="spacingAndGlyphs">0,3122</tspan></text>
<text y="1251" font-size="42" fill="#f0f0f0"><tspan x="278.99" textLength="33.54" lengthAdjust="spacingAndGlyphs">y:</tspan> <tspan x="321.93" textLength="130.93" lengthAdjust="spacingAndGlyphs">0,3288</tspan></text>
<text y="1308.7" font-size="42" fill="#f0f0f0"><tspan x="25.32" textLength="51.8" lengthAdjust="spacingAndGlyphs">u':</tspan> <tspan x="84.22" textLength="131.38" lengthAdjust="spacingAndGlyphs">0,1975</tspan></text>
<text y="1308.7" font-size="42" fill="#f0f0f0"><tspan x="279.24" textLength="44.78" lengthAdjust="spacingAndGlyphs">v':</tspan> <tspan x="330.81" textLength="132.61" lengthAdjust="spacingAndGlyphs">0,4681</tspan></text>
<text y="1365" font-size="42" fill="#f0f0f0"><tspan x="26.61" textLength="130.38" lengthAdjust="spacingAndGlyphs">cd/m²:</tspan> <tspan x="165.29" textLength="177.98" lengthAdjust="spacingAndGlyphs">513,1903</tspan></text>
<text y="1422.3" font-size="42" fill="#f0f0f0"><tspan x="27.51" textLength="48.86" lengthAdjust="spacingAndGlyphs">ΔE</tspan> <tspan x="86.91" textLength="108.97" lengthAdjust="spacingAndGlyphs">2000:</tspan> <tspan x="203.51" textLength="84.37" lengthAdjust="spacingAndGlyphs">0,32</tspan></text>
<text transform="translate(721.81 1124.4) scale(0.9540 1)" font-size="24.6" fill="#d4d4d4">CIE 1931 xy</text>
<rect x="602.9" y="1131.8" width="424.9" height="280.3" fill="#9a9a9a"/>
<rect x="605" y="1134" width="421" height="6" fill="url(#c0)"/>
<rect x="605" y="1140" width="421" height="6" fill="url(#c1)"/>
<rect x="605" y="1146" width="421" height="6" fill="url(#c2)"/>
<rect x="605" y="1152" width="421" height="6" fill="url(#c3)"/>
<rect x="605" y="1158" width="421" height="6" fill="url(#c4)"/>
<rect x="605" y="1164" width="421" height="6" fill="url(#c5)"/>
<rect x="605" y="1170" width="421" height="6" fill="url(#c6)"/>
<rect x="605" y="1176" width="421" height="6" fill="url(#c7)"/>
<rect x="605" y="1182" width="421" height="6" fill="url(#c8)"/>
<rect x="605" y="1188" width="421" height="6" fill="url(#c9)"/>
<rect x="605" y="1194" width="421" height="6" fill="url(#c10)"/>
<rect x="605" y="1200" width="421" height="6" fill="url(#c11)"/>
<rect x="605" y="1206" width="421" height="6" fill="url(#c12)"/>
<rect x="605" y="1212" width="421" height="6" fill="url(#c13)"/>
<rect x="605" y="1218" width="421" height="6" fill="url(#c14)"/>
<rect x="605" y="1224" width="421" height="6" fill="url(#c15)"/>
<rect x="605" y="1230" width="421" height="6" fill="url(#c16)"/>
<rect x="605" y="1236" width="421" height="6" fill="url(#c17)"/>
<rect x="605" y="1242" width="421" height="6" fill="url(#c18)"/>
<rect x="605" y="1248" width="421" height="6" fill="url(#c19)"/>
<rect x="605" y="1254" width="421" height="6" fill="url(#c20)"/>
<rect x="605" y="1260" width="421" height="6" fill="url(#c21)"/>
<rect x="605" y="1266" width="421" height="6" fill="url(#c22)"/>
<rect x="605" y="1272" width="421" height="6" fill="url(#c23)"/>
<rect x="605" y="1278" width="421" height="6" fill="url(#c24)"/>
<rect x="605" y="1284" width="421" height="6" fill="url(#c25)"/>
<rect x="605" y="1290" width="421" height="6" fill="url(#c26)"/>
<rect x="605" y="1296" width="421" height="6" fill="url(#c27)"/>
<rect x="605" y="1302" width="421" height="6" fill="url(#c28)"/>
<rect x="605" y="1308" width="421" height="6" fill="url(#c29)"/>
<rect x="605" y="1314" width="421" height="6" fill="url(#c30)"/>
<rect x="605" y="1320" width="421" height="6" fill="url(#c31)"/>
<rect x="605" y="1326" width="421" height="6" fill="url(#c32)"/>
<rect x="605" y="1332" width="421" height="6" fill="url(#c33)"/>
<rect x="605" y="1338" width="421" height="6" fill="url(#c34)"/>
<rect x="605" y="1344" width="421" height="6" fill="url(#c35)"/>
<rect x="605" y="1350" width="421" height="6" fill="url(#c36)"/>
<rect x="605" y="1356" width="421" height="6" fill="url(#c37)"/>
<rect x="605" y="1362" width="421" height="6" fill="url(#c38)"/>
<rect x="605" y="1368" width="421" height="6" fill="url(#c39)"/>
<rect x="605" y="1374" width="421" height="6" fill="url(#c40)"/>
<rect x="605" y="1380" width="421" height="6" fill="url(#c41)"/>
<rect x="605" y="1386" width="421" height="6" fill="url(#c42)"/>
<rect x="605" y="1392" width="421" height="6" fill="url(#c43)"/>
<rect x="605" y="1398" width="421" height="6" fill="url(#c44)"/>
<rect x="605" y="1404" width="421" height="6" fill="url(#c45)"/>
<rect x="621.4" y="1412.1" width="2.4" height="9.4" fill="#d4d4d4"/>
<text transform="translate(598.25 1446.8) scale(1.0300 1)" font-size="24.4" fill="#d4d4d4">0,29</text>
<rect x="705.7" y="1412.1" width="2.4" height="9.4" fill="#d4d4d4"/>
<text transform="translate(689.49 1446.8) scale(1.0300 1)" font-size="24.4" fill="#d4d4d4">0,3</text>
<rect x="789.9" y="1412.1" width="2.4" height="9.4" fill="#d4d4d4"/>
<text transform="translate(766.77 1446.8) scale(1.0300 1)" font-size="24.4" fill="#d4d4d4">0,31</text>
<rect x="874.8" y="1412.1" width="2.4" height="9.4" fill="#d4d4d4"/>
<text transform="translate(851.68 1446.8) scale(1.0300 1)" font-size="24.4" fill="#d4d4d4">0,32</text>
<rect x="958.7" y="1412.1" width="2.4" height="9.4" fill="#d4d4d4"/>
<text transform="translate(935.5 1446.8) scale(1.0300 1)" font-size="24.4" fill="#d4d4d4">0,33</text>
<rect x="594.2" y="1211.8" width="8.7" height="2.4" fill="#d4d4d4"/>
<text transform="translate(544.92 1222.4) scale(1.0300 1)" font-size="24.4" fill="#d4d4d4">0,34</text>
<rect x="594.2" y="1323.1" width="8.7" height="2.4" fill="#d4d4d4"/>
<text transform="translate(545.45 1333.7) scale(1.0300 1)" font-size="24.4" fill="#d4d4d4">0,32</text>
<clipPath id="cc"><rect x="605" y="1134" width="421" height="276"/></clipPath>
<polyline points="537.5,1501.98 546.63,1494.85 555.77,1487.76 564.9,1480.71 574.03,1473.7 583.16,1466.74 592.3,1459.82 601.43,1452.94 610.56,1446.1 619.69,1439.3 628.83,1432.55 637.96,1425.84 647.09,1419.17 656.22,1412.54 665.36,1405.95 674.49,1399.4 683.62,1392.9 692.75,1386.43 701.88,1380.01 711.02,1373.62 720.15,1367.28 729.28,1360.98 738.42,1354.71 747.55,1348.49 756.68,1342.31 765.81,1336.17 774.94,1330.06 784.08,1324 793.21,1317.97 802.34,1311.99 811.48,1306.04 820.61,1300.13 829.74,1294.26 838.87,1288.43 848,1282.64 857.14,1276.89 866.27,1271.18 875.4,1265.5 884.54,1259.86 893.67,1254.26 902.8,1248.7 911.93,1243.17 921.07,1237.69 930.2,1232.24 939.33,1226.82 948.46,1221.45 957.59,1216.11 966.73,1210.81 975.86,1205.54 984.99,1200.31 994.13,1195.12 1003.26,1189.97 1012.39,1184.85 1021.52,1179.76 1030.65,1174.72 1039.79,1169.71 1048.92,1164.73 1058.05,1159.79 1067.18,1154.89 1076.32,1150.02 1085.45,1145.18" fill="none" stroke="#000" stroke-width="4.2" clip-path="url(#cc)"/>
<rect x="803.5" y="1258.8" width="21.6" height="21.6" fill="none" stroke="#000" stroke-width="3"/>
<circle cx="823.2" cy="1324.3" r="6.8" fill="rgb(26,26,26)" stroke="#000" stroke-width="1.8"/>
<circle cx="851" cy="1290.2" r="6.8" fill="rgb(38,38,38)" stroke="#000" stroke-width="1.8"/>
<circle cx="860.7" cy="1271.6" r="6.8" fill="rgb(51,51,51)" stroke="#000" stroke-width="1.8"/>
<circle cx="871.5" cy="1279.6" r="6.8" fill="rgb(64,64,64)" stroke="#000" stroke-width="1.8"/>
<circle cx="870.8" cy="1295.3" r="6.8" fill="rgb(76,76,76)" stroke="#000" stroke-width="1.8"/>
<circle cx="872.9" cy="1255.7" r="6.8" fill="rgb(89,89,89)" stroke="#000" stroke-width="1.8"/>
<circle cx="867.5" cy="1269" r="6.8" fill="rgb(102,102,102)" stroke="#000" stroke-width="1.8"/>
<circle cx="869.1" cy="1265" r="6.8" fill="rgb(115,115,115)" stroke="#000" stroke-width="1.8"/>
<circle cx="853.7" cy="1260.8" r="6.8" fill="rgb(128,128,128)" stroke="#000" stroke-width="1.8"/>
<circle cx="843.8" cy="1260.8" r="6.8" fill="rgb(140,140,140)" stroke="#000" stroke-width="1.8"/>
<circle cx="839.1" cy="1276.8" r="6.8" fill="rgb(153,153,153)" stroke="#000" stroke-width="1.8"/>
<circle cx="830.2" cy="1261.8" r="6.8" fill="rgb(166,166,166)" stroke="#000" stroke-width="1.8"/>
<circle cx="825.5" cy="1266.9" r="6.8" fill="rgb(178,178,178)" stroke="#000" stroke-width="1.8"/>
<circle cx="826.5" cy="1279.3" r="6.8" fill="rgb(191,191,191)" stroke="#000" stroke-width="1.8"/>
<circle cx="821" cy="1279.5" r="6.8" fill="rgb(204,204,204)" stroke="#000" stroke-width="1.8"/>
<circle cx="814.7" cy="1281.9" r="6.8" fill="rgb(217,217,217)" stroke="#000" stroke-width="1.8"/>
<circle cx="817.5" cy="1281" r="6.8" fill="rgb(230,230,230)" stroke="#000" stroke-width="1.8"/>
<circle cx="819.4" cy="1277.2" r="6.8" fill="rgb(242,242,242)" stroke="#000" stroke-width="1.8"/>
<circle cx="810" cy="1271.6" r="6.8" fill="rgb(255,255,255)" stroke="#000" stroke-width="1.8"/>
<rect x="1045" y="1084" width="18" height="43" fill="#000"/>
<rect x="1063" y="1084" width="1713" height="21.5" fill="url(#th1)"/>
<rect x="1063" y="1105.5" width="1713" height="21.5" fill="url(#th2)"/>
<clipPath id="tc"><rect x="1063" y="1084" width="1713" height="354"/></clipPath>
<rect x="1045" y="1127" width="18" height="37.67" fill="url(#tsd)"/>
<rect x="1045" y="1165.88" width="18" height="37.67" fill="url(#tsd)"/>
<rect x="1045" y="1204.75" width="18" height="37.67" fill="url(#tsd)"/>
<rect x="1045" y="1243.62" width="18" height="37.67" fill="url(#tsd)"/>
<rect x="1045" y="1282.5" width="18" height="37.67" fill="url(#tsd)"/>
<rect x="1045" y="1321.38" width="18" height="37.67" fill="url(#tsd)"/>
<rect x="1045" y="1360.25" width="18" height="37.67" fill="url(#tsd)"/>
<rect x="1045" y="1399.12" width="18" height="37.67" fill="url(#tsd)"/>
<g clip-path="url(#tc)">
<text transform="translate(1243.22 1113.6) scale(0.9300 1)" font-size="21.6" fill="#f6f6f6">0</text>
<text transform="translate(1367.4 1113.6) scale(0.9300 1)" font-size="21.6" fill="#f6f6f6">5</text>
<text transform="translate(1478.77 1113.6) scale(0.9300 1)" font-size="21.6" fill="#f6f6f6">10</text>
<text transform="translate(1590.87 1113.6) scale(0.9300 1)" font-size="21.6" fill="#f6f6f6">15</text>
<text transform="translate(1703.49 1113.6) scale(0.9300 1)" font-size="21.6" fill="#f6f6f6">20</text>
<text transform="translate(1815.59 1113.6) scale(0.9300 1)" font-size="21.6" fill="#f6f6f6">25</text>
<text transform="translate(1927.93 1113.6) scale(0.9300 1)" font-size="21.6" fill="#f6f6f6">30</text>
<text transform="translate(2040.03 1113.6) scale(0.9300 1)" font-size="21.6" fill="#f6f6f6">35</text>
<text transform="translate(2152.44 1113.6) scale(0.9300 1)" font-size="21.6" fill="#f6f6f6">40</text>
<text transform="translate(2264.54 1113.6) scale(0.9300 1)" font-size="21.6" fill="#f6f6f6">45</text>
<text transform="translate(2376.3 1113.6) scale(0.9300 1)" font-size="21.6" fill="#f6f6f6">50</text>
<text transform="translate(2488.4 1113.6) scale(0.9300 1)" font-size="21.6" fill="#f6f6f6">55</text>
<text transform="translate(2600.28 1113.6) scale(0.9300 1)" font-size="21.6" fill="#f6f6f6">60</text>
<text transform="translate(2712.38 1113.6) scale(0.9300 1)" font-size="21.6" fill="#f6f6f6">65</text>
<rect x="1063" y="1127" width="1713" height="38.88" fill="url(#trd)"/>
<text transform="translate(1068.18 1155.3) scale(0.7705 1)" font-size="25.2" fill="#f2f2f2">x: CIE31</text>
<text transform="translate(1242.99 1155.3) scale(0.8260 1)" font-size="25.2" fill="#f2f2f2">0,2504</text>
<text transform="translate(1367.19 1155.3) scale(0.8260 1)" font-size="25.2" fill="#f2f2f2">0,3062</text>
<text transform="translate(1479.29 1155.3) scale(0.8260 1)" font-size="25.2" fill="#f2f2f2">0,3139</text>
<text transform="translate(1591.39 1155.3) scale(0.8260 1)" font-size="25.2" fill="#f2f2f2">0,3172</text>
<text transform="translate(1703.49 1155.3) scale(0.8260 1)" font-size="25.2" fill="#f2f2f2">0,3188</text>
<text transform="translate(1815.59 1155.3) scale(0.8260 1)" font-size="25.2" fill="#f2f2f2">0,3194</text>
<text transform="translate(1927.69 1155.3) scale(0.8260 1)" font-size="25.2" fill="#f2f2f2">0,3195</text>
<text transform="translate(2039.79 1155.3) scale(0.8260 1)" font-size="25.2" fill="#f2f2f2">0,3197</text>
<text transform="translate(2151.89 1155.3) scale(0.8260 1)" font-size="25.2" fill="#f2f2f2">0,3191</text>
<text transform="translate(2263.99 1155.3) scale(0.8260 1)" font-size="25.2" fill="#f2f2f2">0,3191</text>
<text transform="translate(2376.09 1155.3) scale(0.8260 1)" font-size="25.2" fill="#f2f2f2">0,3173</text>
<text transform="translate(2488.19 1155.3) scale(0.8260 1)" font-size="25.2" fill="#f2f2f2">0,3161</text>
<text transform="translate(2600.29 1155.3) scale(0.8260 1)" font-size="25.2" fill="#f2f2f2">0,3157</text>
<text transform="translate(2712.39 1155.3) scale(0.8260 1)" font-size="25.2" fill="#f2f2f2">0,3147</text>
<rect x="1063" y="1165.88" width="1713" height="38.88" fill="url(#trl)"/>
<text transform="translate(1068.35 1194.17) scale(0.7688 1)" font-size="25.2" fill="#eaeaea">y: CIE31</text>
<text transform="translate(1242.99 1194.17) scale(0.8260 1)" font-size="25.2" fill="#eaeaea">0,2949</text>
<text transform="translate(1367.19 1194.17) scale(0.8260 1)" font-size="25.2" fill="#eaeaea">0,2969</text>
<text transform="translate(1479.29 1194.17) scale(0.8260 1)" font-size="25.2" fill="#eaeaea">0,3194</text>
<text transform="translate(1591.39 1194.17) scale(0.8260 1)" font-size="25.2" fill="#eaeaea">0,3256</text>
<text transform="translate(1703.49 1194.17) scale(0.8260 1)" font-size="25.2" fill="#eaeaea">0,3287</text>
<text transform="translate(1815.59 1194.17) scale(0.8260 1)" font-size="25.2" fill="#eaeaea">0,3274</text>
<text transform="translate(1927.69 1194.17) scale(0.8260 1)" font-size="25.2" fill="#eaeaea">0,3247</text>
<text transform="translate(2039.79 1194.17) scale(0.8260 1)" font-size="25.2" fill="#eaeaea">0,3314</text>
<text transform="translate(2151.89 1194.17) scale(0.8260 1)" font-size="25.2" fill="#eaeaea">0,3292</text>
<text transform="translate(2263.99 1194.17) scale(0.8260 1)" font-size="25.2" fill="#eaeaea">0,3299</text>
<text transform="translate(2376.09 1194.17) scale(0.8260 1)" font-size="25.2" fill="#eaeaea">0,3307</text>
<text transform="translate(2488.19 1194.17) scale(0.8260 1)" font-size="25.2" fill="#eaeaea">0,3308</text>
<text transform="translate(2600.29 1194.17) scale(0.8260 1)" font-size="25.2" fill="#eaeaea">0,3280</text>
<text transform="translate(2712.39 1194.17) scale(0.8260 1)" font-size="25.2" fill="#eaeaea">0,3305</text>
<rect x="1063" y="1204.75" width="1713" height="38.88" fill="url(#trd)"/>
<text transform="translate(1068 1233.05) scale(0.7261 1)" font-size="25.2" fill="#f2f2f2">Y</text>
<text transform="translate(1242.99 1233.05) scale(0.8260 1)" font-size="25.2" fill="#f2f2f2">0,0183</text>
<text transform="translate(1367.19 1233.05) scale(0.8260 1)" font-size="25.2" fill="#f2f2f2">0,1866</text>
<text transform="translate(1479.29 1233.05) scale(0.8260 1)" font-size="25.2" fill="#f2f2f2">0,8720</text>
<text transform="translate(1591.15 1233.05) scale(0.8260 1)" font-size="25.2" fill="#f2f2f2">2,1906</text>
<text transform="translate(1703.82 1233.05) scale(0.8260 1)" font-size="25.2" fill="#f2f2f2">4,2018</text>
<text transform="translate(1815.34 1233.05) scale(0.8260 1)" font-size="25.2" fill="#f2f2f2">6,9147</text>
<text transform="translate(1926.91 1233.05) scale(0.8260 1)" font-size="25.2" fill="#f2f2f2">10,2720</text>
<text transform="translate(2039.01 1233.05) scale(0.8260 1)" font-size="25.2" fill="#f2f2f2">14,8100</text>
<text transform="translate(2151.11 1233.05) scale(0.8260 1)" font-size="25.2" fill="#f2f2f2">19,7791</text>
<text transform="translate(2263.75 1233.05) scale(0.8260 1)" font-size="25.2" fill="#f2f2f2">25,8107</text>
<text transform="translate(2376.11 1233.05) scale(0.8260 1)" font-size="25.2" fill="#f2f2f2">32,6230</text>
<text transform="translate(2488.21 1233.05) scale(0.8260 1)" font-size="25.2" fill="#f2f2f2">39,4992</text>
<text transform="translate(2600.62 1233.05) scale(0.8260 1)" font-size="25.2" fill="#f2f2f2">47,5562</text>
<text transform="translate(2712.37 1233.05) scale(0.8260 1)" font-size="25.2" fill="#f2f2f2">57,4405</text>
<rect x="1063" y="1243.62" width="1713" height="38.88" fill="url(#trl)"/>
<text transform="translate(1069.14 1271.92) scale(0.8128 1)" font-size="25.2" fill="#eaeaea">Target Y</text>
<text transform="translate(1242.99 1271.92) scale(0.8260 1)" font-size="25.2" fill="#eaeaea">0,0183</text>
<text transform="translate(1367.19 1271.92) scale(0.8260 1)" font-size="25.2" fill="#eaeaea">0,2261</text>
<text transform="translate(1479.29 1271.92) scale(0.8260 1)" font-size="25.2" fill="#eaeaea">0,9728</text>
<text transform="translate(1591.15 1271.92) scale(0.8260 1)" font-size="25.2" fill="#eaeaea">2,3473</text>
<text transform="translate(1703.82 1271.92) scale(0.8260 1)" font-size="25.2" fill="#eaeaea">4,4039</text>
<text transform="translate(1815.33 1271.92) scale(0.8260 1)" font-size="25.2" fill="#eaeaea">7,1835</text>
<text transform="translate(1926.91 1271.92) scale(0.8260 1)" font-size="25.2" fill="#eaeaea">10,7193</text>
<text transform="translate(2039.01 1271.92) scale(0.8260 1)" font-size="25.2" fill="#eaeaea">15,0396</text>
<text transform="translate(2151.65 1271.92) scale(0.8260 1)" font-size="25.2" fill="#eaeaea">20,1690</text>
<text transform="translate(2263.75 1271.92) scale(0.8260 1)" font-size="25.2" fill="#eaeaea">26,1295</text>
<text transform="translate(2376.11 1271.92) scale(0.8260 1)" font-size="25.2" fill="#eaeaea">32,9408</text>
<text transform="translate(2488.21 1271.92) scale(0.8260 1)" font-size="25.2" fill="#eaeaea">39,8865</text>
<text transform="translate(2600.62 1271.92) scale(0.8260 1)" font-size="25.2" fill="#eaeaea">48,3715</text>
<text transform="translate(2712.37 1271.92) scale(0.8260 1)" font-size="25.2" fill="#eaeaea">57,7563</text>
<rect x="1063" y="1282.5" width="1713" height="38.88" fill="url(#trd)"/>
<text transform="translate(1067.3 1310.8) scale(0.8706 1)" font-size="25.2" fill="#f2f2f2">Gamma Log/Log</text>
<text transform="translate(1242.99 1310.8) scale(0.8260 1)" font-size="25.2" fill="#f2f2f2">0,9780</text>
<text transform="translate(1366.95 1310.8) scale(0.8260 1)" font-size="25.2" fill="#f2f2f2">2,2359</text>
<text transform="translate(1479.05 1310.8) scale(0.8260 1)" font-size="25.2" fill="#f2f2f2">2,2394</text>
<text transform="translate(1591.15 1310.8) scale(0.8260 1)" font-size="25.2" fill="#f2f2f2">2,2324</text>
<text transform="translate(1703.25 1310.8) scale(0.8260 1)" font-size="25.2" fill="#f2f2f2">2,2267</text>
<text transform="translate(1815.35 1310.8) scale(0.8260 1)" font-size="25.2" fill="#f2f2f2">2,2258</text>
<text transform="translate(1927.45 1310.8) scale(0.8260 1)" font-size="25.2" fill="#f2f2f2">2,2342</text>
<text transform="translate(2039.55 1310.8) scale(0.8260 1)" font-size="25.2" fill="#f2f2f2">2,2137</text>
<text transform="translate(2151.65 1310.8) scale(0.8260 1)" font-size="25.2" fill="#f2f2f2">2,2205</text>
<text transform="translate(2263.75 1310.8) scale(0.8260 1)" font-size="25.2" fill="#f2f2f2">2,2147</text>
<text transform="translate(2375.85 1310.8) scale(0.8260 1)" font-size="25.2" fill="#f2f2f2">2,2134</text>
<text transform="translate(2487.95 1310.8) scale(0.8260 1)" font-size="25.2" fill="#f2f2f2">2,2157</text>
<text transform="translate(2600.05 1310.8) scale(0.8260 1)" font-size="25.2" fill="#f2f2f2">2,2326</text>
<text transform="translate(2712.15 1310.8) scale(0.8260 1)" font-size="25.2" fill="#f2f2f2">2,2122</text>
<rect x="1063" y="1321.38" width="1713" height="38.88" fill="url(#trl)"/>
<text transform="translate(1067.44 1349.67) scale(0.7470 1)" font-size="25.2" fill="#eaeaea">CCT</text>
<text transform="translate(1242.21 1349.67) scale(0.8260 1)" font-size="25.2" fill="#eaeaea">12827,0000</text>
<text transform="translate(1366.93 1349.67) scale(0.8260 1)" font-size="25.2" fill="#eaeaea">7303,0000</text>
<text transform="translate(1479.04 1349.67) scale(0.8260 1)" font-size="25.2" fill="#eaeaea">6512,0000</text>
<text transform="translate(1591.14 1349.67) scale(0.8260 1)" font-size="25.2" fill="#eaeaea">6284,0000</text>
<text transform="translate(1703.24 1349.67) scale(0.8260 1)" font-size="25.2" fill="#eaeaea">6180,0000</text>
<text transform="translate(1815.34 1349.67) scale(0.8260 1)" font-size="25.2" fill="#eaeaea">6154,0000</text>
<text transform="translate(1927.44 1349.67) scale(0.8260 1)" font-size="25.2" fill="#eaeaea">6162,0000</text>
<text transform="translate(2039.54 1349.67) scale(0.8260 1)" font-size="25.2" fill="#eaeaea">6118,0000</text>
<text transform="translate(2151.64 1349.67) scale(0.8260 1)" font-size="25.2" fill="#eaeaea">6160,0000</text>
<text transform="translate(2263.74 1349.67) scale(0.8260 1)" font-size="25.2" fill="#eaeaea">6156,0000</text>
<text transform="translate(2375.84 1349.67) scale(0.8260 1)" font-size="25.2" fill="#eaeaea">6246,0000</text>
<text transform="translate(2487.94 1349.67) scale(0.8260 1)" font-size="25.2" fill="#eaeaea">6307,0000</text>
<text transform="translate(2600.04 1349.67) scale(0.8260 1)" font-size="25.2" fill="#eaeaea">6348,0000</text>
<text transform="translate(2712.14 1349.67) scale(0.8260 1)" font-size="25.2" fill="#eaeaea">6384,0000</text>
<rect x="1063" y="1360.25" width="1713" height="38.88" fill="url(#trd)"/>
<text transform="translate(1067.79 1388.55) scale(0.8171 1)" font-size="25.2" fill="#f2f2f2">ΔE 2000</text>
<text transform="translate(1242.99 1388.55) scale(0.8260 1)" font-size="25.2" fill="#f2f2f2">0,1098</text>
<text transform="translate(1367.19 1388.55) scale(0.8260 1)" font-size="25.2" fill="#f2f2f2">0,7614</text>
<text transform="translate(1478.51 1388.55) scale(0.8260 1)" font-size="25.2" fill="#f2f2f2">1,2681</text>
<text transform="translate(1590.61 1388.55) scale(0.8260 1)" font-size="25.2" fill="#f2f2f2">1,5301</text>
<text transform="translate(1702.71 1388.55) scale(0.8260 1)" font-size="25.2" fill="#f2f2f2">1,5705</text>
<text transform="translate(1815.35 1388.55) scale(0.8260 1)" font-size="25.2" fill="#f2f2f2">2,2605</text>
<text transform="translate(1927.71 1388.55) scale(0.8260 1)" font-size="25.2" fill="#f2f2f2">3,3340</text>
<text transform="translate(2039.01 1388.55) scale(0.8260 1)" font-size="25.2" fill="#f2f2f2">1,9442</text>
<text transform="translate(2151.65 1388.55) scale(0.8260 1)" font-size="25.2" fill="#f2f2f2">2,4815</text>
<text transform="translate(2263.75 1388.55) scale(0.8260 1)" font-size="25.2" fill="#f2f2f2">2,4800</text>
<text transform="translate(2375.31 1388.55) scale(0.8260 1)" font-size="25.2" fill="#f2f2f2">1,6548</text>
<text transform="translate(2487.41 1388.55) scale(0.8260 1)" font-size="25.2" fill="#f2f2f2">1,2074</text>
<text transform="translate(2600.05 1388.55) scale(0.8260 1)" font-size="25.2" fill="#f2f2f2">2,0641</text>
<text transform="translate(2712.39 1388.55) scale(0.8260 1)" font-size="25.2" fill="#f2f2f2">0,7757</text>
<rect x="1063" y="1399.12" width="1713" height="38.88" fill="url(#trl)"/>
<text transform="translate(1067.57 1427.42) scale(0.7806 1)" font-size="25.2" fill="#eaeaea">dEITP</text>
<text transform="translate(1242.9 1427.42) scale(0.8260 1)" font-size="25.2" fill="#eaeaea">8,5410</text>
<text transform="translate(1367.1 1427.42) scale(0.8260 1)" font-size="25.2" fill="#eaeaea">8,5870</text>
<text transform="translate(1479.27 1427.42) scale(0.8260 1)" font-size="25.2" fill="#eaeaea">5,8402</text>
<text transform="translate(1591.72 1427.42) scale(0.8260 1)" font-size="25.2" fill="#eaeaea">4,7309</text>
<text transform="translate(1703.82 1427.42) scale(0.8260 1)" font-size="25.2" fill="#eaeaea">4,3245</text>
<text transform="translate(1815.92 1427.42) scale(0.8260 1)" font-size="25.2" fill="#eaeaea">4,7941</text>
<text transform="translate(1927.67 1427.42) scale(0.8260 1)" font-size="25.2" fill="#eaeaea">5,8745</text>
<text transform="translate(2040.12 1427.42) scale(0.8260 1)" font-size="25.2" fill="#eaeaea">4,0337</text>
<text transform="translate(2152.22 1427.42) scale(0.8260 1)" font-size="25.2" fill="#eaeaea">4,2266</text>
<text transform="translate(2264.32 1427.42) scale(0.8260 1)" font-size="25.2" fill="#eaeaea">4,0471</text>
<text transform="translate(2375.85 1427.42) scale(0.8260 1)" font-size="25.2" fill="#eaeaea">2,7990</text>
<text transform="translate(2487.95 1427.42) scale(0.8260 1)" font-size="25.2" fill="#eaeaea">2,1044</text>
<text transform="translate(2600.05 1427.42) scale(0.8260 1)" font-size="25.2" fill="#eaeaea">2,5732</text>
<text transform="translate(2711.61 1427.42) scale(0.8260 1)" font-size="25.2" fill="#eaeaea">1,2493</text>
</g>
<rect x="1063" y="1438" width="1713" height="24.5" fill="url(#sb)" rx="3"/>
<rect x="1063" y="1438" width="1713" height="6" fill="#5c5c5c"/>
<rect x="1087" y="1440.6" width="1126.4" height="20.6" fill="#444444" rx="10.3"/>
<rect x="1064.9" y="1440.6" width="17.6" height="20.6" fill="#7a7a7a" rx="3"/>
<path d="M1078.3 1442.6 L1078.3 1458.4 L1069.8 1450.5 Z" fill="#2e2e2e"/>
<rect x="2756.6" y="1440.6" width="17.9" height="20.6" fill="#7a7a7a" rx="3"/>
<path d="M2761.2 1442.6 L2761.2 1458.4 L2769.7 1450.5 Z" fill="#2e2e2e"/>
<rect x="2789" y="0" width="1" height="849" fill="#2d2d2d"/>
<rect x="2789" y="1069" width="1" height="431" fill="#2d2d2d"/>
<rect x="2787" y="1500" width="3" height="1" fill="#ffffff"/>
</svg>
</body>
</html>
